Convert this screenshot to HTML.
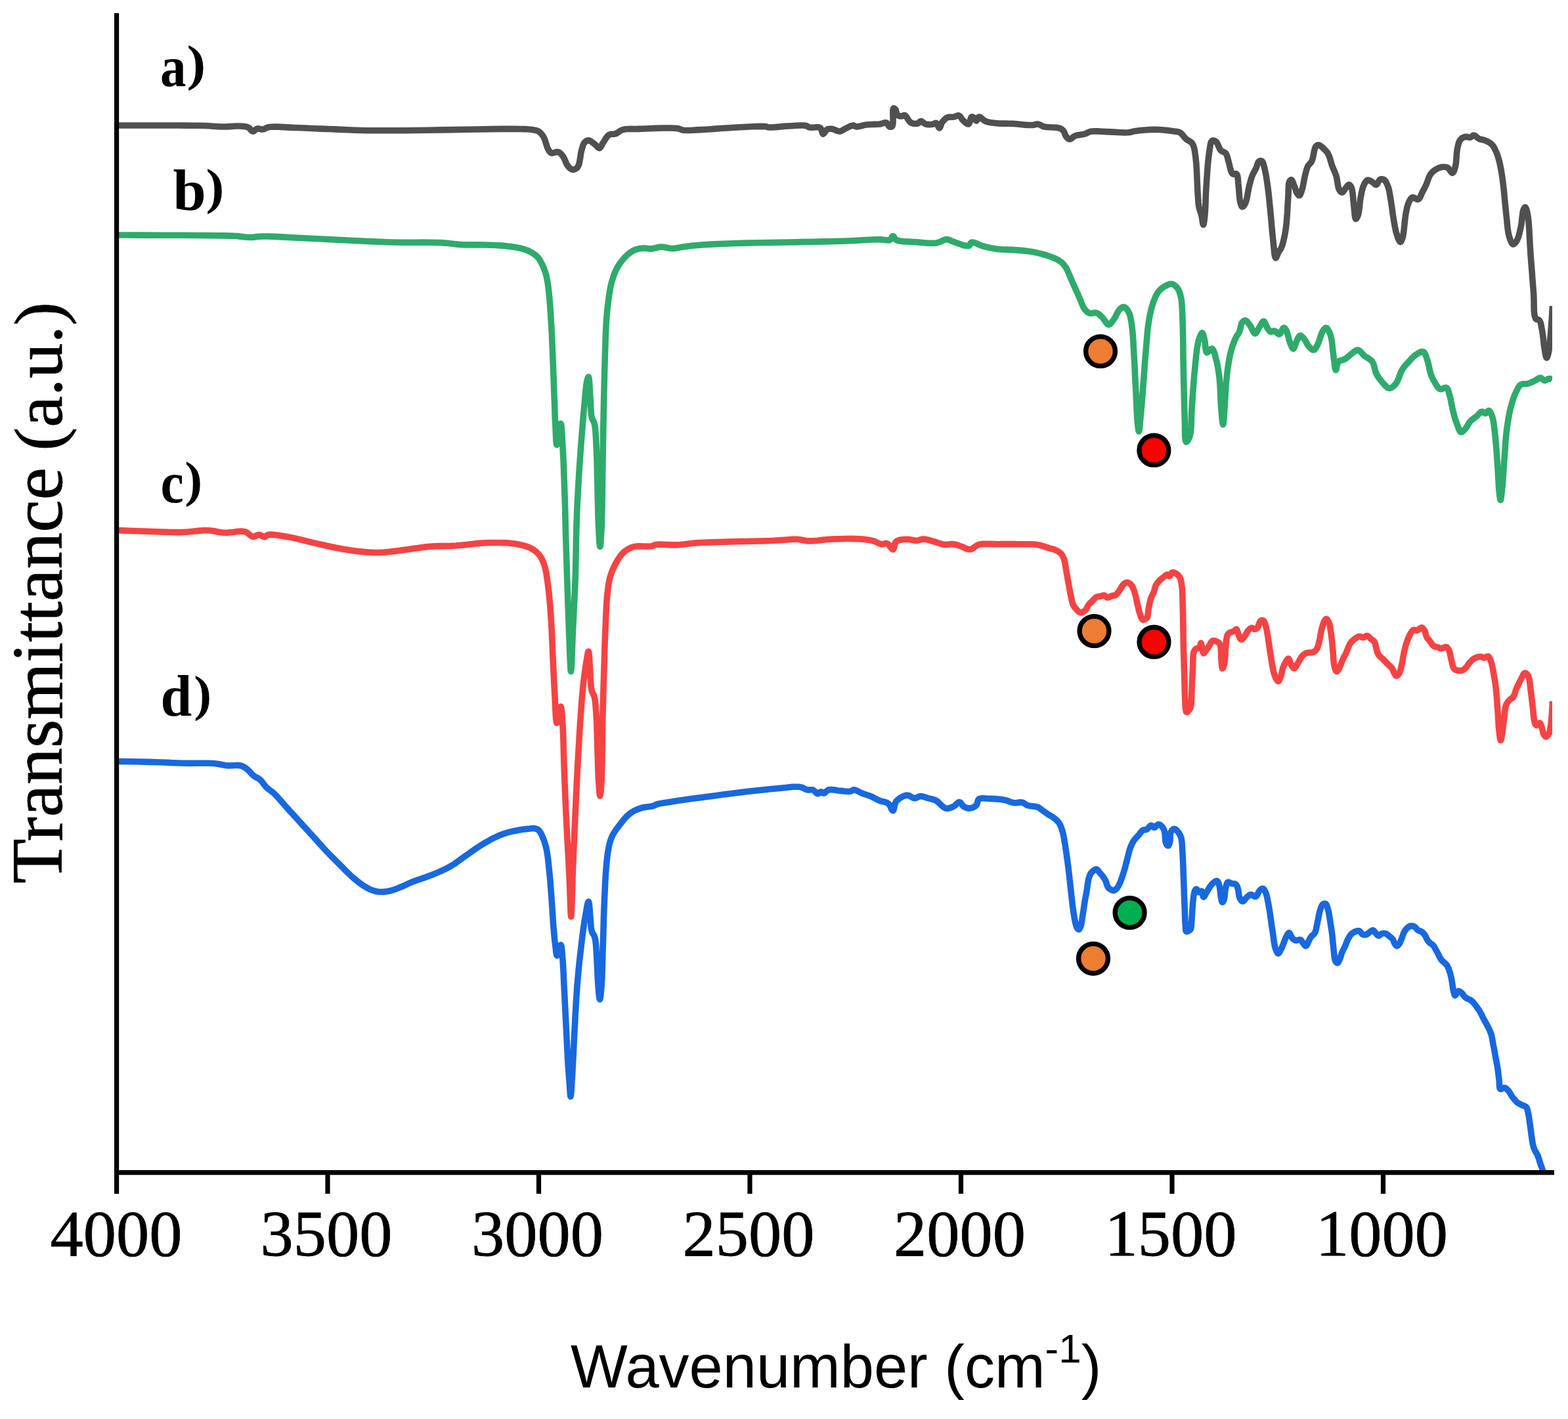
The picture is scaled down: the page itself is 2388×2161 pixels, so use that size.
<!DOCTYPE html>
<html lang="en"><head><meta charset="utf-8"><title>FTIR spectra</title>
<style>
html,body{margin:0;padding:0;background:#fff;}
body{width:2388px;height:2161px;overflow:hidden;}
svg{display:block;}
.tick{font-family:"Liberation Serif",serif;font-size:100.5px;fill:#000;stroke:#000;stroke-width:0.8;}
.ylab{font-family:"Liberation Serif",serif;font-size:110px;fill:#000;stroke:#000;stroke-width:0.8;}
.xlab{font-family:"Liberation Sans",sans-serif;font-size:92px;fill:#000;}
.lab{font-family:"Liberation Serif",serif;font-weight:bold;fill:#000;}
.c{fill:none;stroke-width:9.6;stroke-linejoin:round;stroke-linecap:butt;}
.dot{stroke:#000;stroke-width:7.4;}
</style></head><body>
<svg width="2388" height="2161" viewBox="0 0 2388 2161">
<rect width="2388" height="2161" fill="#fff"/>
<defs><clipPath id="plot"><rect x="181" y="20" width="2183" height="1762"/></clipPath></defs>
<g clip-path="url(#plot)">
<path class="c" stroke="#505050" d="M181.0,191.0 187.0,191.0 202.1,191.0 222.0,191.0 242.7,191.0 260.0,191.0 271.3,191.0 282.3,191.1 292.9,191.2 302.8,191.3 312.0,191.5 318.2,191.8 323.9,192.2 329.3,192.5 334.6,192.9 340.0,193.0 345.2,192.9 350.5,192.6 355.7,192.2 360.5,192.0 365.0,192.0 368.0,192.2 370.8,192.4 373.4,192.7 375.8,193.2 378.0,194.0 379.6,195.1 381.0,196.6 382.3,198.2 383.6,199.4 385.0,200.0 386.4,199.7 387.7,198.8 389.1,197.7 390.5,196.6 392.0,196.0 393.5,195.9 395.1,196.2 396.7,196.6 398.3,197.0 400.0,197.0 401.8,196.6 403.6,195.8 405.4,194.9 407.5,194.1 410.0,193.5 416.2,193.0 423.8,193.1 432.4,193.6 441.3,194.1 450.0,194.5 459.6,194.8 469.6,195.2 479.7,195.7 489.9,196.1 500.0,196.5 510.0,196.9 520.0,197.4 530.0,197.8 540.0,198.2 550.0,198.5 559.8,198.7 569.3,198.8 579.0,198.8 589.1,198.8 600.0,198.8 616.2,198.7 633.8,198.5 652.2,198.2 670.8,197.9 689.0,197.6 707.7,197.3 727.2,197.0 746.3,196.6 763.8,196.4 778.6,196.4 785.7,196.4 792.1,196.5 798.0,196.6 803.2,196.8 808.0,197.3 810.8,197.6 813.4,198.0 815.8,198.4 817.9,199.0 820.0,200.0 821.8,201.2 823.4,202.7 824.9,204.3 826.3,206.2 827.7,208.3 829.4,211.8 830.8,216.0 832.2,220.4 833.5,224.5 835.0,227.7 835.8,229.1 836.7,230.4 837.5,231.5 838.5,232.4 839.6,233.0 841.4,233.1 843.5,232.6 845.8,231.9 848.0,231.4 850.0,231.5 851.7,232.2 853.2,233.3 854.7,234.7 856.0,236.3 857.4,238.0 859.0,240.7 860.5,243.9 861.9,247.3 863.3,250.5 865.0,253.0 866.4,254.5 867.8,255.9 869.3,257.1 870.8,257.9 872.3,258.3 873.8,258.2 875.4,257.8 877.0,257.0 878.5,255.9 879.8,254.5 881.6,250.8 882.8,245.5 883.8,239.6 884.6,233.8 885.7,229.0 886.5,226.2 887.2,223.6 888.0,221.2 888.9,219.1 890.0,217.3 891.0,216.2 892.2,215.2 893.4,214.4 894.7,213.9 896.0,213.7 898.0,214.2 900.1,215.4 902.4,217.0 904.5,218.7 906.5,220.2 907.9,221.5 909.3,223.0 910.6,224.3 911.8,225.3 913.0,225.6 914.2,224.9 915.2,223.4 916.3,221.4 917.3,219.3 918.5,217.3 920.1,214.9 921.7,212.2 923.5,209.5 925.3,207.1 927.4,205.4 929.3,204.6 931.4,204.3 933.6,204.2 935.7,204.1 937.8,203.6 939.8,202.6 941.8,201.3 943.7,199.9 945.8,198.6 948.2,197.6 952.1,196.8 956.4,196.5 961.2,196.4 966.4,196.5 972.0,196.4 983.0,196.0 996.4,195.4 1010.2,195.0 1022.5,195.0 1031.5,195.5 1033.8,196.0 1035.5,196.6 1036.9,197.2 1038.5,197.8 1040.5,198.2 1044.8,198.5 1049.8,198.5 1055.3,198.2 1061.1,197.9 1067.0,197.6 1074.2,197.2 1081.7,196.7 1089.4,196.1 1097.6,195.5 1106.0,195.0 1118.1,194.3 1131.9,193.5 1145.6,192.8 1157.4,192.4 1165.5,192.6 1167.0,192.8 1168.1,193.2 1169.0,193.5 1170.0,193.8 1171.4,194.0 1175.7,194.0 1181.3,193.6 1187.6,193.0 1194.0,192.4 1200.0,192.0 1205.8,191.7 1211.8,191.3 1217.7,191.0 1222.9,191.0 1227.0,191.4 1228.5,191.8 1229.6,192.4 1230.6,193.0 1231.7,193.6 1233.0,194.0 1235.9,194.2 1239.4,194.0 1243.0,193.7 1246.4,193.8 1249.0,194.6 1250.4,196.2 1251.3,198.6 1252.0,201.1 1252.7,203.1 1253.6,204.0 1254.6,203.5 1255.7,202.1 1256.9,200.3 1258.1,198.5 1259.5,197.3 1260.8,196.7 1262.3,196.4 1263.8,196.3 1265.4,196.3 1267.0,196.4 1269.3,196.9 1271.7,197.9 1274.2,199.0 1276.7,199.8 1279.0,200.0 1281.1,199.5 1283.1,198.5 1285.0,197.3 1287.0,196.1 1289.0,195.0 1291.2,194.0 1293.5,192.9 1295.7,191.9 1297.9,191.2 1299.7,191.0 1300.6,191.2 1301.4,191.7 1302.2,192.2 1303.0,192.7 1304.0,193.0 1306.4,192.9 1309.2,192.3 1312.4,191.5 1315.7,190.6 1319.0,190.0 1323.1,189.7 1327.5,189.5 1332.0,189.4 1336.2,189.3 1340.0,189.0 1342.3,188.5 1344.5,187.8 1346.5,187.2 1348.4,186.8 1350.0,187.0 1351.2,187.9 1352.1,189.3 1353.0,190.9 1353.8,192.2 1354.8,193.0 1355.6,193.2 1356.5,193.2 1357.4,193.0 1358.3,192.6 1359.0,192.0 1360.0,188.1 1360.1,181.5 1359.9,174.1 1359.9,168.0 1360.7,165.0 1361.2,164.9 1361.9,165.1 1362.5,165.5 1363.1,166.1 1363.7,166.7 1364.4,168.0 1364.8,169.8 1365.3,171.8 1365.9,173.6 1366.7,175.0 1367.7,175.7 1368.8,176.3 1370.1,176.7 1371.4,176.9 1372.6,177.0 1373.7,176.8 1374.8,176.4 1375.9,175.8 1376.9,175.5 1378.0,175.6 1379.6,176.8 1381.3,179.1 1382.9,181.7 1384.5,184.2 1386.0,186.0 1386.9,186.6 1387.8,187.1 1388.6,187.5 1389.5,187.8 1390.5,188.0 1391.9,188.2 1393.5,188.4 1395.1,188.4 1396.6,188.3 1398.0,188.0 1399.0,187.4 1399.8,186.5 1400.6,185.6 1401.5,184.8 1402.4,184.5 1403.7,184.8 1405.1,185.8 1406.6,187.0 1408.2,188.2 1409.8,189.0 1411.7,189.4 1413.9,189.6 1416.0,189.6 1418.1,189.5 1420.0,189.3 1421.3,188.9 1422.6,188.4 1423.8,187.8 1425.0,187.4 1426.0,187.5 1427.1,188.6 1428.1,190.5 1428.9,192.6 1429.8,194.3 1430.6,195.0 1431.5,194.3 1432.3,192.6 1433.0,190.3 1433.9,187.9 1435.0,186.0 1436.3,184.4 1437.7,182.8 1439.2,181.3 1440.9,180.0 1442.6,179.0 1444.5,178.4 1446.7,178.2 1448.8,178.2 1451.0,178.2 1453.0,178.0 1454.6,177.5 1456.1,176.9 1457.6,176.3 1459.1,175.9 1460.4,176.0 1461.7,176.8 1462.9,178.2 1464.0,179.8 1465.1,181.5 1466.4,183.0 1468.0,184.5 1469.9,186.3 1471.7,187.8 1473.5,188.8 1475.0,189.0 1476.2,187.7 1477.1,185.1 1477.9,182.0 1478.8,179.4 1479.8,178.0 1480.6,177.9 1481.5,178.2 1482.4,178.7 1483.2,179.4 1484.0,180.0 1484.7,180.8 1485.3,181.9 1485.8,182.9 1486.4,183.7 1487.0,184.0 1487.7,183.4 1488.4,182.0 1489.2,180.3 1490.0,178.8 1491.0,178.0 1492.5,178.3 1494.3,179.6 1496.3,181.4 1498.4,183.2 1500.6,184.5 1503.2,185.4 1506.0,186.1 1509.0,186.7 1512.2,187.1 1515.5,187.5 1520.3,187.9 1525.5,188.1 1530.9,188.1 1536.5,188.2 1542.0,188.4 1548.2,188.8 1554.7,189.5 1561.2,190.1 1567.1,190.5 1572.0,190.5 1574.1,190.2 1576.0,189.8 1577.7,189.3 1579.3,189.0 1581.0,189.0 1582.7,189.5 1584.4,190.3 1586.1,191.2 1587.9,192.2 1590.0,192.9 1594.3,193.5 1599.4,193.8 1604.9,194.0 1609.8,194.4 1613.7,195.2 1615.2,195.9 1616.5,196.6 1617.6,197.4 1618.6,198.3 1619.6,199.4 1620.6,201.0 1621.5,202.9 1622.2,204.9 1623.0,206.8 1624.0,208.3 1624.9,209.3 1625.8,210.3 1626.8,211.2 1627.9,211.7 1629.0,212.0 1630.5,211.6 1632.1,210.6 1633.8,209.2 1635.6,207.9 1637.5,206.8 1640.2,206.0 1643.3,205.5 1646.5,205.0 1649.6,204.5 1652.4,203.9 1654.2,203.2 1655.8,202.4 1657.3,201.6 1659.0,200.9 1661.0,200.3 1665.8,199.8 1671.7,199.9 1678.2,200.2 1684.8,200.6 1691.0,200.9 1696.7,201.1 1702.4,201.5 1708.1,201.8 1713.3,202.0 1718.0,201.8 1720.6,201.5 1722.9,201.0 1725.0,200.4 1727.3,199.9 1730.0,199.4 1735.1,198.8 1740.9,198.2 1747.1,197.7 1753.4,197.4 1759.5,197.3 1765.5,197.5 1771.7,198.0 1777.8,198.6 1783.3,199.3 1788.0,200.0 1790.2,200.3 1792.0,200.4 1793.7,200.7 1795.4,201.1 1797.0,201.8 1798.9,203.2 1800.7,205.1 1802.4,207.2 1804.2,209.4 1806.0,211.3 1808.0,212.8 1810.2,214.1 1812.3,215.4 1814.3,216.9 1816.0,218.8 1817.5,221.8 1818.6,225.2 1819.4,229.0 1820.0,233.3 1820.7,238.0 1821.8,248.3 1822.6,261.1 1823.2,274.7 1823.7,287.4 1824.3,297.6 1824.6,301.9 1824.9,305.7 1825.1,309.1 1825.5,312.3 1826.0,315.5 1826.6,318.0 1827.4,320.4 1828.2,322.7 1829.0,325.0 1829.7,327.4 1830.4,330.7 1831.0,334.7 1831.5,338.4 1832.1,341.2 1832.6,342.3 1833.1,341.3 1833.6,338.8 1834.1,335.3 1834.6,331.3 1835.0,327.4 1835.5,320.5 1835.9,312.5 1836.2,303.8 1836.5,294.7 1837.0,285.7 1837.7,274.9 1838.5,263.3 1839.4,251.7 1840.4,241.0 1841.6,232.0 1842.3,227.4 1842.9,223.0 1843.6,219.1 1844.6,216.0 1846.0,214.3 1847.1,214.0 1848.3,214.0 1849.6,214.4 1850.8,215.0 1852.0,215.8 1853.6,217.8 1855.0,220.6 1856.4,223.8 1857.8,226.9 1859.4,229.2 1860.9,230.3 1862.5,231.1 1864.1,231.7 1865.6,232.5 1866.9,233.6 1868.1,235.7 1869.0,238.2 1869.8,241.1 1870.5,244.1 1871.3,247.0 1872.3,250.8 1873.3,255.1 1874.4,259.3 1875.7,262.7 1877.3,264.9 1878.4,265.2 1879.7,265.1 1881.0,264.7 1882.2,264.5 1883.2,264.9 1884.4,267.0 1885.1,270.3 1885.5,274.3 1885.8,278.6 1886.2,282.7 1886.7,287.4 1887.1,292.6 1887.4,297.7 1887.9,302.5 1888.6,306.5 1889.2,308.7 1889.8,310.9 1890.4,312.9 1891.2,314.3 1892.0,314.9 1892.8,314.7 1893.8,313.9 1894.8,312.6 1895.7,311.1 1896.6,309.5 1898.1,305.4 1899.3,299.9 1900.4,293.9 1901.5,287.9 1902.6,282.7 1903.5,279.4 1904.3,276.4 1905.1,273.5 1906.0,270.7 1907.0,267.9 1908.1,265.4 1909.3,263.0 1910.6,260.6 1911.8,258.3 1913.0,256.0 1913.9,253.7 1914.7,251.1 1915.5,248.7 1916.4,246.8 1917.5,245.5 1918.3,245.1 1919.3,244.9 1920.2,244.9 1921.2,245.1 1922.0,245.5 1923.2,247.0 1924.1,249.4 1924.9,252.4 1925.7,255.7 1926.4,259.0 1927.4,263.6 1928.4,268.7 1929.2,274.1 1930.1,279.8 1930.9,285.7 1931.9,293.4 1932.8,301.7 1933.6,310.3 1934.5,318.9 1935.3,327.4 1936.1,335.9 1936.8,344.6 1937.6,353.2 1938.4,361.4 1939.2,369.0 1939.8,374.9 1940.4,381.3 1941.0,387.0 1941.8,391.2 1942.8,392.9 1943.6,392.3 1944.4,390.7 1945.3,388.4 1946.3,386.0 1947.2,384.0 1948.1,382.5 1949.0,381.1 1950.0,379.7 1950.9,378.2 1951.7,376.5 1952.8,373.7 1953.7,370.4 1954.6,367.0 1955.4,363.5 1956.2,360.0 1956.9,356.6 1957.5,353.4 1958.0,350.0 1958.5,346.4 1959.0,342.3 1959.7,334.4 1960.4,325.1 1960.9,315.2 1961.5,305.8 1962.0,297.6 1962.2,292.6 1962.3,287.8 1962.5,283.3 1962.8,279.6 1963.6,276.8 1964.1,275.8 1964.7,275.0 1965.3,274.3 1966.0,273.9 1966.6,273.8 1967.5,274.5 1968.4,276.1 1969.3,278.2 1970.1,280.6 1971.0,282.7 1971.9,285.1 1972.8,287.7 1973.6,290.4 1974.5,292.7 1975.5,294.6 1976.2,295.5 1976.9,296.4 1977.6,297.1 1978.3,297.5 1979.0,297.6 1979.9,296.9 1980.7,295.4 1981.5,293.3 1982.3,291.0 1983.0,288.7 1984.0,285.1 1984.8,280.9 1985.7,276.4 1986.5,272.0 1987.4,267.9 1988.2,264.7 1989.0,261.5 1989.8,258.4 1990.8,255.6 1991.9,253.0 1993.0,251.4 1994.2,250.0 1995.5,248.7 1996.7,247.3 1997.8,245.5 1999.2,241.5 2000.3,236.4 2001.2,231.1 2002.4,226.4 2003.8,223.2 2004.6,222.3 2005.4,221.6 2006.3,221.1 2007.2,220.8 2008.2,220.8 2009.9,221.4 2011.7,222.6 2013.7,224.2 2015.5,226.0 2017.2,227.7 2018.5,229.0 2019.7,230.3 2020.9,231.7 2022.0,233.2 2023.0,235.0 2024.4,238.1 2025.6,241.6 2026.7,245.5 2027.8,249.4 2029.0,253.0 2030.2,256.0 2031.5,258.9 2032.7,261.8 2033.9,264.8 2035.0,267.9 2036.0,272.1 2036.7,276.7 2037.5,281.4 2038.3,285.5 2039.5,288.7 2040.3,290.0 2041.2,291.2 2042.1,292.2 2043.1,292.8 2044.0,293.0 2045.2,292.4 2046.4,291.0 2047.6,289.1 2048.8,287.2 2050.0,285.7 2050.9,284.6 2051.8,283.4 2052.7,282.3 2053.6,281.6 2054.4,281.3 2055.2,281.6 2056.0,282.2 2056.8,283.2 2057.5,284.4 2058.2,285.7 2059.3,289.6 2060.1,294.9 2060.7,300.9 2061.2,307.0 2061.8,312.5 2062.3,317.5 2062.8,322.9 2063.3,328.0 2063.9,331.7 2064.8,333.3 2065.5,333.0 2066.2,332.1 2067.0,330.8 2067.7,329.1 2068.4,327.4 2069.4,323.2 2070.2,317.9 2070.8,311.9 2071.4,305.9 2072.2,300.6 2073.0,296.7 2073.7,292.8 2074.6,289.1 2075.5,285.7 2076.7,282.7 2077.7,280.6 2078.8,278.5 2080.0,276.7 2081.3,275.2 2082.6,274.4 2083.7,274.3 2084.9,274.5 2086.1,275.0 2087.4,275.6 2088.6,276.2 2090.1,277.2 2091.6,278.6 2093.2,280.0 2094.6,281.0 2096.0,281.3 2097.3,280.4 2098.4,278.6 2099.5,276.4 2100.7,274.4 2102.0,273.2 2103.1,272.8 2104.4,272.7 2105.7,272.9 2106.9,273.2 2108.0,273.8 2109.4,275.1 2110.7,276.9 2111.8,279.2 2112.9,281.6 2113.9,284.2 2115.1,288.0 2116.0,292.3 2116.8,296.9 2117.6,301.7 2118.4,306.5 2119.3,312.3 2120.2,318.4 2121.0,324.6 2121.9,330.6 2122.8,336.3 2123.6,340.8 2124.4,345.2 2125.3,349.4 2126.2,353.3 2127.3,357.0 2128.3,359.9 2129.3,363.0 2130.5,365.7 2131.6,367.7 2132.6,368.5 2133.4,368.1 2134.1,367.0 2134.9,365.5 2135.5,363.6 2136.2,361.6 2137.3,356.3 2138.2,349.3 2139.0,341.6 2139.8,333.9 2140.7,327.4 2141.4,323.3 2142.2,319.5 2142.9,315.9 2143.9,312.5 2145.0,309.5 2146.0,307.3 2147.1,305.0 2148.2,303.1 2149.5,301.5 2151.0,300.6 2152.6,300.7 2154.5,301.6 2156.5,302.7 2158.4,303.6 2160.0,303.6 2161.5,302.4 2162.7,300.5 2163.8,298.0 2164.9,295.4 2166.0,293.0 2167.2,290.7 2168.4,288.5 2169.7,286.1 2170.8,283.8 2172.0,281.3 2173.2,278.4 2174.3,275.2 2175.4,272.0 2176.6,269.0 2178.0,266.4 2179.3,264.6 2180.6,263.0 2182.1,261.5 2183.6,260.2 2185.3,259.0 2187.2,257.8 2189.3,256.7 2191.4,255.7 2193.6,255.0 2195.7,254.5 2197.6,254.3 2199.4,254.2 2201.3,254.4 2203.0,254.8 2204.7,255.4 2206.4,256.8 2207.9,258.9 2209.4,261.1 2210.8,262.8 2212.0,263.4 2213.1,262.6 2214.2,260.9 2215.1,258.5 2215.9,255.7 2216.6,253.0 2217.4,248.3 2217.9,242.8 2218.3,236.9 2218.8,231.2 2219.5,226.2 2220.2,223.1 2220.9,220.1 2221.7,217.3 2222.7,214.8 2224.0,212.8 2225.3,211.5 2226.7,210.3 2228.3,209.4 2229.9,208.8 2231.5,208.3 2233.0,208.2 2234.5,208.5 2236.0,208.9 2237.5,209.2 2238.9,209.2 2240.1,208.7 2241.3,207.9 2242.5,207.0 2243.6,206.2 2244.8,206.0 2246.2,206.5 2247.7,207.6 2249.2,208.9 2250.7,210.3 2252.3,211.3 2254.0,211.9 2255.7,212.3 2257.6,212.7 2259.4,213.1 2261.2,213.7 2263.3,214.6 2265.5,215.6 2267.7,216.7 2269.7,218.0 2271.6,219.6 2273.4,221.6 2275.0,223.9 2276.4,226.4 2277.7,229.2 2279.0,232.0 2280.5,235.7 2281.7,239.8 2282.9,244.0 2284.0,248.4 2285.0,253.0 2286.1,258.5 2287.0,264.2 2287.9,270.1 2288.7,276.3 2289.5,282.7 2290.5,291.2 2291.3,300.3 2292.2,309.6 2293.1,318.8 2294.0,327.4 2294.8,334.5 2295.4,341.6 2296.2,348.4 2297.1,354.6 2298.4,360.0 2299.4,363.2 2300.5,366.3 2301.8,369.1 2303.1,371.1 2304.4,372.0 2305.5,371.8 2306.8,370.8 2308.0,369.4 2309.2,367.8 2310.3,366.0 2311.8,362.8 2313.1,358.8 2314.3,354.3 2315.3,349.7 2316.3,345.2 2317.2,340.0 2317.8,334.3 2318.4,328.7 2319.1,323.7 2320.0,320.0 2320.5,318.7 2321.1,317.4 2321.7,316.4 2322.2,315.7 2322.8,315.5 2323.6,316.3 2324.5,318.2 2325.3,320.8 2326.0,324.0 2326.7,327.4 2327.9,336.4 2328.8,347.9 2329.5,361.0 2330.2,374.3 2331.0,387.0 2331.9,399.1 2332.9,411.4 2333.8,423.6 2334.7,435.3 2335.6,446.4 2336.0,455.4 2336.1,464.6 2336.3,473.2 2337.0,480.3 2338.6,485.0 2339.6,486.0 2340.9,486.5 2342.2,486.7 2343.4,487.2 2344.5,488.0 2345.9,490.5 2346.9,493.9 2347.6,497.8 2348.3,502.0 2349.0,506.0 2349.7,510.6 2350.3,515.5 2350.8,520.5 2351.3,525.3 2352.0,529.8 2352.6,533.5 2353.3,537.6 2354.0,541.3 2354.8,543.9 2355.5,545.0 2356.1,544.4 2356.7,542.9 2357.4,540.8 2358.0,538.4 2358.5,536.0 2359.2,532.4 2359.7,528.3 2360.2,524.0 2360.6,519.5 2361.0,515.0 2361.5,510.1 2361.9,505.1 2362.3,500.1 2362.6,495.0 2363.0,490.0 2363.4,484.4 2363.8,478.1 2364.1,472.1 2364.4,467.7 2364.5,466.0"/>
<path class="c" stroke="#2eab6b" d="M181.0,358.0 190.3,358.0 213.5,358.1 243.9,358.2 275.0,358.3 300.0,358.5 313.8,358.6 327.0,358.7 339.3,358.9 350.4,359.1 360.0,359.5 364.7,359.9 368.8,360.4 372.5,360.9 376.2,361.3 380.0,361.5 383.9,361.4 387.6,361.0 391.3,360.6 395.4,360.2 400.0,360.0 408.6,360.0 418.4,360.4 428.9,360.9 439.6,361.5 450.0,362.0 460.0,362.5 470.0,363.0 480.0,363.5 490.0,364.0 500.0,364.5 510.0,365.0 520.0,365.5 530.0,366.0 540.0,366.5 550.0,367.0 559.9,367.5 569.6,367.9 579.4,368.3 589.4,368.7 600.0,369.0 613.9,369.2 629.0,369.2 644.2,369.1 658.7,369.2 671.4,369.6 678.6,370.1 685.1,370.8 691.2,371.5 697.3,372.1 704.0,372.6 712.7,372.9 721.9,372.9 731.3,372.9 740.5,373.0 749.0,373.2 755.4,373.5 761.5,373.9 767.3,374.3 773.0,374.9 778.6,375.6 783.7,376.4 788.6,377.3 793.5,378.3 798.1,379.5 802.4,381.0 805.8,382.5 809.1,384.2 812.2,386.1 814.9,388.0 817.3,390.0 818.7,391.4 819.9,392.8 821.0,394.3 822.0,395.9 823.0,397.7 824.5,400.5 826.1,403.6 827.6,407.0 829.0,410.5 830.3,414.0 831.4,417.8 832.4,421.6 833.2,425.6 834.0,429.9 834.7,434.7 835.8,443.7 836.8,454.1 837.7,465.3 838.5,476.8 839.2,488.0 839.9,499.6 840.5,511.5 841.0,523.4 841.5,535.3 842.0,547.2 842.5,559.2 842.9,571.3 843.4,583.3 843.8,595.1 844.2,606.4 844.6,615.9 844.9,625.2 845.2,634.2 845.6,642.7 846.0,650.8 846.3,657.4 846.6,664.5 846.9,671.0 847.4,675.7 848.0,677.5 849.0,674.1 850.3,666.1 851.6,656.4 852.9,648.4 854.0,645.0 854.8,647.4 855.5,653.5 856.0,661.9 856.5,671.4 857.0,680.4 857.7,693.5 858.4,708.0 858.9,723.5 859.5,739.2 860.0,754.4 860.5,769.4 860.9,784.7 861.2,799.8 861.6,814.5 862.0,828.5 862.3,839.2 862.7,849.2 863.0,859.0 863.3,869.1 863.7,880.0 864.2,895.0 864.7,911.2 865.3,927.9 865.9,944.4 866.5,960.0 867.1,975.0 867.7,991.6 868.3,1006.9 868.9,1018.1 869.5,1022.5 870.1,1018.1 870.7,1006.9 871.3,991.6 871.9,975.0 872.5,960.0 873.2,944.7 874.0,929.1 874.8,913.0 875.6,896.6 876.2,880.0 876.7,861.3 877.1,842.0 877.4,822.5 877.9,803.1 878.5,784.0 879.3,765.9 880.3,747.8 881.3,730.0 882.4,712.4 883.6,695.2 884.7,679.6 885.9,664.1 887.1,648.9 888.3,634.5 889.5,621.2 890.4,611.6 891.2,602.1 892.1,593.2 893.0,585.7 894.0,580.0 894.5,578.2 894.9,576.6 895.4,575.2 895.9,574.3 896.3,574.0 897.1,576.4 897.6,582.5 898.1,590.5 898.5,599.0 899.0,606.4 899.4,612.7 899.7,619.2 900.0,625.5 900.5,631.2 901.3,636.0 902.0,638.1 902.8,639.7 903.7,641.2 904.5,642.9 905.2,645.0 906.2,650.3 906.9,656.8 907.4,664.2 907.8,672.1 908.2,680.4 908.8,693.7 909.2,708.7 909.5,724.5 909.9,740.1 910.2,754.4 910.5,765.4 910.7,776.1 911.0,786.3 911.3,796.0 911.7,805.0 912.1,811.9 912.5,819.2 912.9,825.9 913.4,830.7 913.8,832.5 914.3,830.8 914.8,826.2 915.2,819.7 915.7,812.3 916.1,805.0 916.6,791.7 916.9,776.1 917.2,759.2 917.4,741.8 917.6,724.8 917.9,707.3 918.2,689.6 918.5,671.7 918.8,653.8 919.1,636.0 919.5,618.0 919.9,599.6 920.3,581.4 920.7,563.8 921.2,547.2 921.6,534.3 922.0,521.7 922.4,509.6 922.9,498.3 923.5,488.0 924.0,481.4 924.5,475.3 925.1,469.6 925.8,464.0 926.5,458.4 927.2,452.9 928.0,447.5 928.9,442.1 929.8,436.9 931.0,431.8 932.2,427.4 933.5,423.1 934.9,419.0 936.5,414.9 938.3,411.0 940.3,407.2 942.5,403.5 944.9,399.9 947.5,396.5 950.2,393.3 952.9,390.5 955.8,387.8 958.8,385.3 961.9,383.2 965.0,381.4 967.9,380.2 970.9,379.3 973.9,378.6 976.9,378.2 979.8,377.9 982.2,377.9 984.5,378.2 986.8,378.6 989.2,378.9 991.6,379.0 994.4,378.6 997.3,377.9 1000.3,377.1 1003.3,376.3 1006.4,376.0 1009.9,376.2 1013.4,376.8 1017.1,377.6 1020.7,378.2 1024.2,378.5 1027.4,378.3 1030.5,377.8 1033.6,377.2 1036.7,376.6 1040.0,376.0 1043.9,375.5 1047.8,374.9 1051.8,374.4 1056.3,374.0 1061.3,373.5 1071.1,372.8 1082.5,372.1 1094.9,371.5 1107.9,371.0 1120.8,370.5 1135.8,370.1 1151.4,369.8 1167.4,369.5 1183.7,369.3 1200.0,369.0 1217.9,368.6 1236.4,368.3 1254.9,367.9 1272.7,367.5 1289.0,367.0 1300.6,366.5 1311.9,365.8 1322.5,365.2 1332.0,364.8 1340.0,364.6 1343.7,364.9 1347.1,365.4 1350.1,365.8 1352.7,366.0 1355.0,365.5 1356.3,364.5 1357.4,362.9 1358.2,361.3 1359.1,360.0 1360.0,359.5 1360.9,360.0 1361.7,361.2 1362.5,362.7 1363.6,364.3 1365.0,365.5 1369.1,366.8 1374.5,367.6 1380.8,367.9 1387.3,368.2 1393.5,368.5 1400.1,369.1 1406.9,369.7 1413.8,370.2 1420.3,370.4 1426.0,370.0 1429.6,369.1 1432.9,367.7 1435.9,366.2 1438.8,365.1 1441.7,364.6 1444.0,364.9 1446.2,365.6 1448.3,366.5 1450.5,367.6 1453.0,368.5 1457.3,370.0 1462.2,371.8 1467.3,373.5 1471.9,374.5 1475.3,374.4 1476.5,373.6 1477.3,372.4 1477.9,371.0 1478.7,369.7 1479.8,369.0 1482.5,369.1 1485.8,370.2 1489.6,371.9 1493.6,373.6 1497.6,375.0 1502.1,376.1 1506.9,377.2 1511.8,378.1 1516.7,378.9 1521.4,379.5 1525.5,379.9 1529.5,380.0 1533.5,380.1 1537.6,380.2 1542.0,380.4 1548.2,380.9 1554.9,381.4 1561.8,382.1 1568.6,383.0 1575.0,384.0 1580.1,385.1 1585.1,386.3 1589.9,387.6 1594.5,389.0 1598.8,390.5 1602.1,391.7 1605.3,392.9 1608.3,394.3 1611.1,395.7 1613.7,397.3 1615.8,398.8 1617.6,400.4 1619.4,402.2 1621.0,404.1 1622.6,406.3 1624.6,409.6 1626.3,413.2 1628.0,417.2 1629.7,421.4 1631.5,425.6 1633.8,430.7 1636.3,436.2 1638.7,441.8 1641.2,447.3 1643.5,452.4 1645.3,456.7 1647.0,461.0 1648.7,465.1 1650.5,468.8 1652.4,471.7 1653.8,473.2 1655.2,474.5 1656.6,475.6 1658.2,476.4 1659.8,477.0 1661.7,477.2 1663.8,476.9 1665.9,476.5 1668.0,476.3 1670.0,476.5 1671.9,477.4 1673.8,478.7 1675.5,480.2 1677.3,481.9 1679.0,483.6 1680.9,485.9 1682.8,488.7 1684.7,491.5 1686.5,493.5 1688.4,494.4 1690.2,493.8 1691.9,492.2 1693.7,490.0 1695.4,487.6 1697.0,485.3 1698.7,482.6 1700.2,479.5 1701.7,476.4 1703.3,473.6 1705.0,471.4 1706.3,470.2 1707.7,469.0 1709.1,468.1 1710.5,467.6 1711.8,467.5 1713.3,468.1 1714.9,469.4 1716.4,471.2 1717.8,473.3 1719.0,475.4 1720.4,478.6 1721.4,482.2 1722.3,486.2 1723.0,490.6 1723.7,495.2 1724.6,502.7 1725.3,511.1 1725.9,520.1 1726.4,529.4 1726.9,538.9 1727.6,550.4 1728.2,562.6 1728.8,575.0 1729.4,587.1 1730.0,598.4 1730.4,607.1 1730.8,615.5 1731.1,623.6 1731.5,631.1 1732.0,638.0 1732.4,642.9 1732.9,647.9 1733.4,652.5 1733.9,655.7 1734.4,657.0 1734.9,655.8 1735.4,652.5 1735.8,648.0 1736.3,643.0 1736.8,638.0 1737.6,629.9 1738.4,620.6 1739.2,610.7 1740.0,600.5 1740.8,590.5 1741.6,580.3 1742.3,570.0 1743.1,559.6 1743.8,549.3 1744.7,538.9 1745.6,528.3 1746.5,517.5 1747.4,506.8 1748.5,496.6 1749.9,487.3 1751.0,481.0 1752.3,475.1 1753.6,469.6 1755.1,464.4 1756.7,459.5 1758.1,455.9 1759.5,452.5 1761.0,449.3 1762.7,446.3 1764.6,443.7 1766.4,441.7 1768.3,439.9 1770.3,438.3 1772.4,436.9 1774.5,435.7 1776.4,434.7 1778.5,433.7 1780.5,433.0 1782.5,432.5 1784.4,432.5 1786.1,432.9 1787.8,433.7 1789.5,434.9 1791.0,436.2 1792.4,437.7 1793.9,439.8 1795.3,442.3 1796.4,445.1 1797.4,448.2 1798.3,451.6 1799.4,457.4 1800.0,464.0 1800.4,471.3 1800.7,479.1 1801.0,487.3 1801.4,499.9 1801.7,513.9 1801.9,528.7 1802.0,543.8 1802.3,558.7 1802.6,574.8 1803.0,591.7 1803.4,608.4 1803.8,624.1 1804.3,638.0 1804.5,647.0 1804.5,656.2 1804.7,664.4 1805.2,670.4 1806.3,673.0 1807.3,672.6 1808.6,671.3 1809.9,669.2 1811.2,666.6 1812.2,664.0 1813.5,657.8 1814.1,650.0 1814.4,641.1 1814.6,631.6 1815.0,622.2 1815.9,610.1 1816.8,597.0 1817.8,583.7 1818.9,570.7 1820.0,558.7 1820.9,549.8 1821.8,541.0 1822.7,532.7 1823.9,525.3 1825.3,519.0 1826.3,515.7 1827.5,512.5 1828.7,509.7 1829.9,507.7 1830.9,507.0 1831.8,507.9 1832.6,510.0 1833.4,512.9 1834.1,516.1 1834.8,519.0 1835.4,522.8 1835.8,527.3 1836.2,531.7 1836.8,535.2 1838.0,536.9 1839.3,536.5 1841.0,535.0 1842.7,533.0 1844.4,531.4 1845.9,531.0 1847.4,532.4 1848.7,535.2 1849.9,538.8 1850.9,542.9 1851.9,546.8 1853.2,551.7 1854.3,557.0 1855.3,562.5 1856.2,568.4 1857.0,574.6 1857.8,583.5 1858.4,593.5 1858.8,603.7 1859.2,613.5 1859.8,622.2 1860.3,628.4 1860.9,634.8 1861.5,640.7 1862.1,644.9 1862.6,646.5 1863.1,644.9 1863.6,640.6 1864.1,634.8 1864.5,628.3 1865.0,622.2 1865.5,614.3 1866.0,605.6 1866.5,596.5 1867.0,587.4 1867.8,578.6 1868.7,570.4 1869.7,562.1 1870.9,553.9 1872.2,546.1 1873.7,538.9 1875.1,533.5 1876.6,528.3 1878.3,523.4 1880.0,519.0 1881.7,515.0 1882.9,512.8 1884.1,510.8 1885.4,509.1 1886.6,507.2 1887.6,505.2 1888.5,502.4 1889.2,499.3 1889.8,496.2 1890.5,493.4 1891.6,491.3 1892.5,490.2 1893.5,489.3 1894.6,488.5 1895.6,488.1 1896.7,488.0 1898.0,488.6 1899.4,489.8 1900.8,491.5 1902.2,493.4 1903.5,495.2 1905.1,497.9 1906.7,501.2 1908.3,504.5 1909.9,507.0 1911.4,508.0 1912.6,507.4 1913.8,505.8 1915.0,503.6 1916.2,501.3 1917.4,499.2 1918.8,496.9 1920.3,494.3 1921.7,491.8 1923.2,490.0 1924.5,489.3 1925.7,490.1 1926.8,492.0 1927.8,494.5 1928.9,497.1 1930.0,499.2 1931.0,500.7 1932.0,502.1 1933.0,503.5 1934.0,504.5 1935.2,505.2 1936.3,505.3 1937.5,504.9 1938.7,504.4 1940.0,504.0 1941.2,504.0 1942.6,504.7 1944.1,506.1 1945.6,507.6 1947.0,508.7 1948.3,509.0 1949.8,507.8 1951.2,505.4 1952.5,502.6 1953.8,500.2 1955.0,499.2 1955.8,499.4 1956.7,500.0 1957.5,500.9 1958.2,502.0 1959.0,503.2 1960.3,506.3 1961.5,510.4 1962.6,515.0 1963.8,519.4 1965.0,523.0 1965.9,525.1 1966.9,527.3 1967.8,529.2 1968.8,530.5 1969.7,531.0 1970.8,530.1 1971.8,527.7 1972.8,524.7 1973.9,521.6 1975.0,519.0 1975.9,517.0 1976.9,515.0 1977.8,513.1 1978.9,511.7 1980.0,511.0 1981.3,511.3 1982.7,512.3 1984.1,513.8 1985.5,515.4 1986.8,517.0 1988.1,518.8 1989.2,520.9 1990.3,523.1 1991.5,525.2 1992.8,527.0 1994.3,528.6 1995.9,530.3 1997.6,531.8 1999.2,532.7 2000.7,533.0 2002.0,532.4 2003.2,531.0 2004.4,529.2 2005.5,527.1 2006.6,525.0 2008.2,521.2 2009.8,516.6 2011.3,511.8 2012.9,507.4 2014.6,504.0 2015.6,502.5 2016.6,501.2 2017.7,500.1 2018.7,499.4 2019.7,499.2 2021.1,500.1 2022.6,502.1 2024.0,504.8 2025.4,507.9 2026.5,511.0 2027.7,515.8 2028.6,521.3 2029.2,527.2 2029.8,533.2 2030.5,538.9 2031.2,544.7 2032.0,551.2 2032.7,557.2 2033.5,561.7 2034.4,563.5 2035.0,562.5 2035.6,559.9 2036.2,556.5 2037.1,553.2 2038.4,550.8 2040.0,549.6 2042.0,548.8 2044.1,548.3 2046.3,547.7 2048.3,546.8 2050.3,545.4 2052.3,543.8 2054.3,542.1 2056.2,540.4 2058.2,538.9 2060.1,537.4 2062.1,535.8 2064.1,534.3 2066.1,533.3 2068.0,533.0 2070.0,533.8 2072.0,535.5 2073.9,537.7 2075.9,540.0 2078.0,542.0 2080.4,543.7 2083.0,545.2 2085.6,546.8 2088.0,548.6 2090.0,550.8 2091.6,553.9 2092.8,557.6 2093.7,561.5 2094.6,565.3 2095.9,568.7 2097.3,571.3 2098.8,573.8 2100.3,576.1 2102.1,578.4 2103.9,580.6 2106.1,583.2 2108.4,586.0 2110.9,588.5 2113.4,590.5 2115.8,591.3 2117.8,591.0 2119.9,590.0 2121.9,588.5 2123.9,586.6 2125.7,584.5 2127.9,580.9 2129.9,576.4 2131.7,571.5 2133.5,566.8 2135.6,562.7 2137.5,560.0 2139.4,557.5 2141.4,555.2 2143.5,553.0 2145.5,550.8 2147.4,548.7 2149.3,546.5 2151.3,544.5 2153.3,542.6 2155.5,540.9 2157.8,539.3 2160.4,537.7 2163.0,536.4 2165.4,535.6 2167.4,535.7 2169.0,536.8 2170.2,538.7 2171.3,541.2 2172.3,544.0 2173.3,546.8 2174.6,551.1 2175.8,556.0 2176.9,561.2 2178.0,566.2 2179.3,570.6 2180.4,573.3 2181.5,575.8 2182.6,578.1 2183.9,580.3 2185.2,582.5 2186.6,584.8 2188.0,587.2 2189.5,589.5 2191.2,591.4 2193.0,592.5 2194.9,592.6 2197.1,591.9 2199.3,590.9 2201.3,590.3 2203.0,590.5 2204.4,591.9 2205.4,594.0 2206.3,596.6 2207.0,599.5 2207.8,602.4 2208.9,606.6 2209.9,611.4 2210.9,616.4 2211.9,621.5 2213.0,626.2 2214.1,630.4 2215.2,634.5 2216.4,638.6 2217.7,642.4 2219.0,646.0 2220.1,648.9 2221.2,652.0 2222.4,654.8 2223.6,657.0 2225.0,658.0 2226.1,657.9 2227.3,657.4 2228.5,656.4 2229.7,655.2 2230.9,654.0 2232.5,652.0 2234.0,649.6 2235.5,646.9 2237.1,644.3 2238.8,642.0 2240.6,640.2 2242.6,638.6 2244.7,637.0 2246.8,635.5 2248.7,634.0 2250.4,632.4 2252.0,630.6 2253.6,629.0 2255.1,627.7 2256.7,627.0 2257.9,627.1 2259.1,627.8 2260.3,628.6 2261.5,629.2 2262.6,629.4 2263.6,628.9 2264.6,627.8 2265.6,626.6 2266.5,625.7 2267.4,625.4 2268.5,626.1 2269.6,627.5 2270.7,629.4 2271.6,631.7 2272.5,634.0 2273.6,637.8 2274.5,642.3 2275.2,647.2 2275.8,652.5 2276.5,658.0 2277.4,666.5 2278.3,676.0 2279.1,685.9 2279.8,696.0 2280.5,705.6 2281.1,714.8 2281.6,724.4 2282.1,733.6 2282.6,742.0 2283.2,749.0 2283.6,752.4 2284.0,755.8 2284.4,758.7 2284.8,760.7 2285.2,761.5 2285.7,760.5 2286.2,757.7 2286.6,753.9 2287.1,749.5 2287.6,745.2 2288.4,737.2 2289.1,727.8 2289.8,717.5 2290.5,707.2 2291.2,697.6 2291.8,689.4 2292.3,681.4 2292.8,673.5 2293.5,665.7 2294.3,658.0 2295.2,650.6 2296.3,643.2 2297.5,635.9 2298.8,628.8 2300.3,622.2 2301.7,617.0 2303.1,611.9 2304.7,607.1 2306.4,602.5 2308.2,598.4 2309.6,595.3 2311.1,592.4 2312.6,589.6 2314.3,587.4 2316.2,585.7 2318.0,585.0 2319.9,584.8 2322.0,584.8 2324.0,584.8 2326.0,584.5 2328.0,583.9 2330.0,583.2 2332.0,582.4 2334.0,581.5 2336.0,580.6 2338.1,579.5 2340.2,578.1 2342.2,576.7 2344.2,575.7 2346.0,575.4 2347.3,575.8 2348.4,576.8 2349.5,577.9 2350.7,578.9 2351.9,579.4 2353.4,579.2 2355.1,578.5 2356.8,577.6 2358.4,576.9 2359.8,576.6 2360.9,576.8 2362.0,577.3 2363.0,577.9 2363.7,578.4 2364.0,578.6"/>
<path class="c" stroke="#f54343" d="M181.0,807.7 185.3,807.9 196.1,808.3 210.5,808.8 225.4,809.3 238.0,809.7 246.4,810.0 254.4,810.2 262.2,810.5 270.0,810.6 277.8,810.5 285.9,810.0 294.2,809.2 302.4,808.4 310.2,807.8 317.5,807.7 322.6,808.2 327.3,809.0 331.8,810.0 336.4,810.8 341.3,811.3 347.6,811.1 354.4,810.4 361.3,809.5 367.6,809.1 373.0,809.7 375.9,810.9 378.4,812.8 380.6,814.7 382.7,816.3 385.0,817.2 387.0,817.1 389.0,816.4 391.0,815.5 392.9,814.7 394.8,814.4 396.5,814.8 398.1,815.6 399.7,816.6 401.3,817.3 402.8,817.6 404.0,817.3 405.0,816.6 406.0,815.7 407.2,814.9 408.7,814.4 412.8,814.1 418.1,814.4 424.0,815.2 430.3,816.2 436.5,817.2 444.0,818.6 451.9,820.4 460.0,822.4 468.1,824.4 476.2,826.3 484.1,828.1 492.1,830.0 500.0,831.8 507.9,833.5 515.9,835.0 524.0,836.4 532.2,837.7 540.4,838.9 548.3,839.9 555.6,840.6 560.7,841.0 565.3,841.3 569.8,841.5 574.4,841.5 579.4,841.4 586.0,841.0 593.0,840.3 600.3,839.4 607.6,838.4 615.0,837.5 622.8,836.5 630.8,835.3 638.8,834.2 646.8,833.1 654.8,832.3 662.7,831.8 670.6,831.6 678.6,831.5 686.5,831.4 694.4,831.0 702.5,830.3 710.6,829.4 718.8,828.5 726.6,827.6 734.0,827.0 739.6,826.7 745.0,826.5 750.2,826.5 755.2,826.5 760.0,826.5 763.9,826.5 767.5,826.6 771.0,826.7 774.7,827.0 778.5,827.4 783.7,828.1 789.2,829.0 794.8,830.2 800.2,831.6 805.0,833.3 808.5,835.0 811.7,836.8 814.7,838.8 817.5,841.1 820.0,843.6 822.2,846.4 824.2,849.4 825.9,852.7 827.4,856.2 828.8,860.0 830.4,865.6 831.7,871.8 832.8,878.4 833.8,885.3 834.7,892.5 835.8,901.8 836.8,911.6 837.7,921.8 838.5,932.3 839.2,942.8 839.9,954.3 840.5,966.1 841.0,978.1 841.5,990.1 842.0,1002.0 842.6,1014.0 843.2,1026.2 843.7,1038.2 844.4,1049.9 845.0,1061.0 845.5,1070.8 845.9,1081.4 846.4,1091.1 847.1,1098.2 848.0,1101.0 849.0,1098.4 850.3,1092.2 851.7,1084.8 852.9,1078.6 854.0,1076.0 854.9,1078.0 855.5,1083.1 856.1,1090.2 856.5,1098.1 857.0,1105.6 857.6,1116.0 858.0,1127.5 858.3,1139.7 858.6,1152.2 859.0,1164.8 859.5,1179.4 860.1,1194.7 860.8,1210.2 861.4,1225.1 862.0,1238.8 862.5,1248.3 862.9,1257.1 863.4,1265.6 863.8,1274.2 864.3,1283.2 864.9,1294.1 865.5,1305.4 866.1,1317.0 866.7,1328.6 867.3,1340.0 867.8,1353.0 868.3,1367.8 868.8,1381.7 869.2,1392.0 869.7,1396.0 870.3,1390.6 870.8,1376.7 871.4,1357.9 872.0,1337.8 872.6,1320.0 873.3,1304.0 874.0,1287.9 874.7,1271.7 875.4,1255.3 876.2,1238.8 877.0,1221.3 877.8,1203.6 878.7,1185.7 879.6,1167.8 880.6,1150.0 881.7,1131.7 882.8,1112.9 884.0,1094.4 885.2,1076.8 886.5,1061.0 887.4,1051.0 888.4,1041.6 889.4,1032.8 890.5,1024.6 891.6,1016.8 892.5,1010.6 893.6,1004.0 894.6,998.0 895.5,993.6 896.3,992.0 896.9,993.7 897.3,998.2 897.7,1004.2 898.0,1010.8 898.4,1016.8 898.9,1023.9 899.2,1031.8 899.7,1039.6 900.3,1046.8 901.3,1052.4 902.0,1054.4 902.8,1056.0 903.7,1057.5 904.5,1059.0 905.2,1061.0 906.1,1065.6 906.8,1071.1 907.3,1077.3 907.8,1083.9 908.2,1090.8 908.8,1101.5 909.2,1113.6 909.5,1126.2 909.9,1138.6 910.2,1150.0 910.5,1158.7 910.7,1167.1 911.0,1175.2 911.3,1182.9 911.7,1190.0 912.1,1195.5 912.5,1201.4 912.9,1206.7 913.4,1210.5 913.8,1212.0 914.3,1210.6 914.8,1207.1 915.2,1201.9 915.7,1196.0 916.1,1190.0 916.6,1176.7 916.9,1160.3 917.1,1142.1 917.3,1123.5 917.6,1105.6 918.0,1087.7 918.5,1069.4 919.0,1051.1 919.5,1033.4 920.0,1016.8 920.4,1004.1 920.7,992.1 921.1,980.5 921.5,969.0 922.0,957.6 922.5,946.5 922.9,935.2 923.5,924.1 924.1,913.7 925.0,904.3 925.7,898.3 926.4,892.8 927.2,887.6 928.2,882.6 929.5,877.7 930.9,873.3 932.5,869.0 934.3,864.9 936.2,860.9 938.3,857.0 940.4,853.4 942.6,849.9 944.9,846.5 947.5,843.4 950.2,840.7 952.8,838.6 955.6,836.7 958.5,835.1 961.6,833.8 965.0,832.7 970.0,831.9 975.7,831.8 981.6,832.0 987.1,832.1 991.6,831.8 993.5,831.4 995.1,830.8 996.5,830.2 998.1,829.7 1000.0,829.3 1004.8,829.0 1010.6,829.2 1017.0,829.6 1023.6,829.9 1029.8,829.9 1035.6,829.5 1041.2,828.9 1046.9,828.2 1052.9,827.5 1059.5,826.9 1070.1,826.3 1081.8,825.9 1094.2,825.5 1106.8,825.1 1119.0,824.8 1131.2,824.5 1143.6,824.2 1155.9,824.0 1167.7,823.7 1178.6,823.3 1186.5,822.8 1194.1,822.2 1201.4,821.7 1208.1,821.3 1214.3,821.3 1218.1,821.7 1221.5,822.3 1224.8,823.0 1228.2,823.6 1232.0,823.9 1238.3,823.8 1245.3,823.2 1252.6,822.3 1260.3,821.5 1267.9,821.0 1276.8,820.7 1286.4,820.5 1295.9,820.4 1304.8,820.6 1312.5,821.0 1316.7,821.4 1320.4,821.9 1323.9,822.4 1327.2,823.1 1330.4,823.9 1333.0,824.8 1335.4,826.0 1337.8,827.1 1340.1,828.1 1342.3,828.7 1344.2,828.7 1346.0,828.3 1347.8,827.8 1349.5,827.6 1351.2,827.8 1353.1,829.2 1355.1,831.6 1356.9,834.1 1358.5,836.1 1360.0,836.7 1361.1,835.5 1361.7,833.1 1362.3,830.0 1363.2,827.0 1364.6,824.8 1367.1,823.3 1370.3,822.3 1373.9,821.8 1377.6,821.5 1381.0,821.3 1384.0,821.5 1387.1,822.0 1390.1,822.6 1393.0,823.1 1395.8,823.3 1398.0,823.0 1400.0,822.4 1402.0,821.8 1404.1,821.2 1406.3,821.0 1409.3,821.3 1412.6,821.9 1416.0,822.9 1419.3,823.9 1422.6,824.8 1425.6,825.7 1428.6,826.8 1431.6,827.8 1434.5,828.7 1437.5,829.3 1440.5,829.4 1443.5,829.2 1446.6,828.8 1449.5,828.6 1452.4,828.7 1454.9,829.2 1457.2,829.8 1459.6,830.6 1461.9,831.5 1464.3,832.3 1466.9,833.3 1469.6,834.6 1472.3,835.7 1475.0,836.5 1477.7,836.7 1480.3,835.9 1482.7,834.3 1485.2,832.4 1487.9,830.6 1491.0,829.3 1496.1,828.4 1502.0,828.2 1508.3,828.4 1514.6,828.6 1520.8,828.7 1526.8,828.6 1532.7,828.6 1538.7,828.6 1544.7,828.6 1550.6,828.7 1556.6,828.7 1562.8,828.7 1568.9,828.8 1574.7,829.0 1580.0,829.6 1583.7,830.3 1587.2,831.3 1590.6,832.4 1593.7,833.4 1596.7,834.4 1598.9,835.0 1601.1,835.6 1603.1,836.1 1605.1,836.7 1607.0,837.5 1608.8,838.3 1610.6,839.2 1612.3,840.3 1614.0,841.4 1615.4,842.7 1616.7,844.2 1617.9,846.0 1618.9,847.8 1619.8,849.9 1620.6,852.0 1621.5,855.0 1622.1,858.2 1622.7,861.7 1623.2,865.2 1623.8,868.8 1624.5,872.8 1625.3,877.0 1626.0,881.3 1626.8,885.5 1627.5,889.6 1628.2,893.5 1628.9,897.3 1629.6,901.1 1630.3,904.8 1631.0,908.3 1631.6,911.0 1632.1,913.7 1632.7,916.2 1633.3,918.6 1634.2,920.8 1635.1,922.5 1636.0,924.0 1637.1,925.4 1638.2,926.7 1639.4,928.0 1640.5,929.3 1641.7,930.5 1643.0,931.7 1644.3,932.6 1645.6,933.0 1647.1,932.9 1648.6,932.3 1650.2,931.4 1651.7,930.3 1653.0,929.2 1654.2,927.8 1655.2,926.0 1656.1,924.2 1657.0,922.4 1658.0,920.8 1659.0,919.6 1660.0,918.6 1661.1,917.6 1662.2,916.6 1663.3,915.6 1664.5,914.3 1665.7,912.9 1667.0,911.6 1668.3,910.3 1669.6,909.4 1670.8,908.9 1672.0,908.6 1673.3,908.4 1674.5,908.2 1675.8,908.0 1677.1,907.7 1678.4,907.2 1679.6,906.9 1680.9,906.6 1682.0,906.7 1682.9,907.2 1683.7,908.0 1684.5,908.8 1685.4,909.6 1686.3,910.0 1687.6,909.9 1689.1,909.4 1690.6,908.6 1692.1,907.9 1693.5,907.3 1694.6,907.1 1695.7,907.0 1696.8,906.9 1697.8,906.7 1698.8,906.3 1700.1,905.3 1701.4,903.9 1702.6,902.3 1703.8,900.7 1705.0,899.0 1706.3,897.1 1707.5,895.0 1708.7,892.9 1710.0,891.1 1711.3,889.6 1712.3,888.8 1713.3,888.0 1714.4,887.5 1715.4,887.1 1716.5,887.0 1717.7,887.2 1719.0,887.7 1720.3,888.5 1721.6,889.5 1722.7,890.6 1724.0,892.4 1725.1,894.5 1726.2,896.9 1727.1,899.4 1728.0,902.0 1728.9,905.1 1729.8,908.5 1730.5,911.9 1731.2,915.4 1732.0,918.8 1732.8,922.2 1733.6,925.7 1734.5,929.2 1735.3,932.5 1736.3,935.4 1737.0,937.5 1737.7,939.6 1738.5,941.5 1739.4,943.0 1740.4,943.8 1741.6,943.9 1742.9,943.5 1744.3,942.7 1745.6,941.7 1746.7,940.6 1747.7,938.6 1748.2,936.0 1748.5,933.0 1748.8,930.0 1749.2,927.0 1749.9,923.7 1750.6,920.2 1751.3,916.7 1752.1,913.4 1753.0,910.4 1753.8,908.5 1754.6,906.9 1755.4,905.3 1756.2,903.7 1757.0,902.0 1757.7,900.0 1758.2,897.9 1758.8,895.7 1759.4,893.6 1760.2,891.7 1761.1,890.1 1762.1,888.5 1763.1,887.1 1764.2,885.7 1765.4,884.4 1766.6,883.2 1767.8,882.2 1769.1,881.1 1770.4,880.2 1771.7,879.2 1773.0,878.2 1774.3,877.0 1775.6,876.0 1776.9,875.3 1778.0,875.0 1778.7,875.3 1779.3,875.9 1779.9,876.7 1780.4,877.3 1781.0,877.5 1781.8,876.9 1782.6,875.6 1783.4,874.1 1784.2,872.7 1785.2,871.9 1786.2,871.7 1787.2,871.8 1788.3,872.1 1789.4,872.5 1790.4,873.0 1791.7,873.8 1793.1,874.9 1794.4,876.2 1795.7,877.6 1796.7,879.2 1797.7,881.2 1798.4,883.5 1798.9,886.0 1799.4,888.7 1799.8,891.7 1800.4,897.2 1800.7,903.3 1800.9,910.1 1801.1,917.4 1801.3,925.0 1801.6,936.3 1801.8,948.9 1802.0,962.0 1802.2,975.1 1802.5,987.5 1802.8,998.4 1803.1,1009.1 1803.4,1019.7 1803.7,1029.9 1804.0,1039.6 1804.2,1047.7 1804.4,1055.9 1804.7,1063.6 1805.0,1070.5 1805.4,1076.0 1805.6,1078.3 1805.8,1080.5 1806.1,1082.4 1806.4,1083.8 1807.0,1084.5 1807.5,1084.5 1808.2,1084.1 1808.9,1083.4 1809.6,1082.7 1810.2,1082.0 1810.9,1081.2 1811.6,1080.4 1812.2,1079.5 1812.8,1078.3 1813.3,1077.0 1814.1,1073.1 1814.5,1067.9 1814.7,1062.0 1814.8,1055.9 1815.0,1050.0 1815.3,1043.9 1815.6,1037.6 1815.9,1031.2 1816.2,1024.9 1816.5,1018.8 1816.7,1012.9 1816.8,1006.6 1817.0,1000.7 1817.5,995.5 1818.5,991.7 1819.2,990.5 1820.0,989.5 1820.9,988.7 1821.8,988.0 1822.7,987.5 1823.5,987.2 1824.4,987.1 1825.4,987.1 1826.2,986.9 1826.9,986.5 1827.6,985.2 1828.0,983.4 1828.3,981.4 1828.6,979.8 1829.0,979.2 1829.7,980.8 1830.4,984.6 1831.1,989.1 1832.0,993.0 1833.0,994.8 1833.8,994.5 1834.6,993.6 1835.5,992.3 1836.4,990.9 1837.3,989.6 1838.2,988.4 1839.0,987.2 1839.8,985.9 1840.6,984.6 1841.5,983.3 1842.5,981.7 1843.4,980.0 1844.4,978.3 1845.5,976.9 1846.7,976.0 1847.9,975.7 1849.2,975.8 1850.5,976.1 1851.8,976.5 1853.0,977.0 1854.1,977.6 1855.2,978.2 1856.3,979.0 1857.2,980.0 1858.0,981.3 1859.1,985.4 1859.6,991.0 1859.8,997.3 1859.9,1003.4 1860.2,1008.3 1860.5,1010.9 1860.7,1013.4 1861.0,1015.7 1861.3,1017.3 1861.7,1018.0 1862.2,1017.7 1862.7,1016.7 1863.3,1015.3 1863.9,1013.7 1864.4,1012.0 1865.1,1008.2 1865.5,1003.3 1865.8,998.0 1866.1,992.5 1866.5,987.5 1866.9,982.9 1867.3,978.2 1867.8,973.6 1868.5,969.7 1869.6,966.7 1870.3,965.6 1871.1,964.8 1872.0,964.1 1872.9,963.5 1873.8,963.0 1874.8,962.6 1875.9,962.3 1876.9,962.1 1878.0,961.9 1879.0,961.5 1879.9,960.8 1880.7,960.0 1881.5,959.1 1882.3,958.4 1883.0,958.3 1883.8,959.1 1884.4,960.7 1885.0,962.7 1885.6,964.8 1886.3,966.7 1887.0,968.4 1887.8,970.3 1888.6,972.1 1889.5,973.4 1890.4,974.0 1891.4,973.7 1892.4,972.8 1893.5,971.6 1894.6,970.1 1895.6,968.8 1896.7,967.2 1897.7,965.4 1898.7,963.6 1899.7,961.9 1900.8,960.4 1901.8,959.3 1902.8,958.3 1903.8,957.4 1904.9,956.7 1906.0,956.3 1907.0,956.4 1908.1,957.0 1909.2,957.6 1910.3,958.2 1911.3,958.3 1912.2,958.0 1913.1,957.6 1913.9,956.9 1914.7,956.1 1915.4,955.2 1916.3,953.5 1917.1,951.4 1917.8,949.2 1918.6,947.2 1919.6,945.8 1920.4,945.3 1921.3,944.8 1922.2,944.6 1923.0,944.6 1923.8,944.8 1924.8,945.8 1925.7,947.4 1926.5,949.5 1927.2,951.8 1927.9,954.2 1928.9,958.1 1929.8,962.6 1930.5,967.4 1931.3,972.3 1932.0,977.0 1932.7,981.3 1933.3,985.5 1933.9,989.7 1934.6,993.9 1935.2,998.0 1935.8,1001.9 1936.4,1005.7 1937.0,1009.6 1937.6,1013.2 1938.3,1016.7 1938.9,1019.4 1939.4,1022.0 1940.0,1024.6 1940.7,1026.9 1941.5,1029.2 1942.4,1031.3 1943.5,1033.5 1944.6,1035.5 1945.7,1037.0 1946.7,1037.5 1947.6,1036.9 1948.5,1035.4 1949.3,1033.4 1950.1,1031.3 1950.8,1029.2 1951.5,1026.8 1952.1,1024.3 1952.7,1021.6 1953.3,1019.1 1954.0,1016.7 1954.7,1014.9 1955.5,1013.1 1956.3,1011.4 1957.1,1009.8 1958.0,1008.3 1958.8,1006.9 1959.7,1005.5 1960.6,1004.2 1961.5,1003.3 1962.3,1003.0 1963.2,1003.8 1964.0,1005.7 1964.8,1008.1 1965.6,1010.5 1966.5,1012.5 1967.3,1013.9 1968.2,1015.3 1969.1,1016.5 1970.1,1017.4 1971.0,1017.7 1972.0,1017.2 1973.1,1015.9 1974.2,1014.1 1975.2,1012.2 1976.3,1010.4 1977.5,1008.4 1978.7,1006.2 1980.0,1003.9 1981.2,1001.8 1982.6,1000.0 1983.7,998.7 1984.9,997.5 1986.1,996.5 1987.4,995.6 1988.8,994.8 1990.7,994.3 1992.9,994.0 1995.2,993.9 1997.4,993.8 1999.3,993.3 2000.5,992.8 2001.7,992.2 2002.7,991.4 2003.6,990.6 2004.5,989.6 2005.5,988.0 2006.4,986.1 2007.2,983.9 2007.9,981.6 2008.6,979.2 2009.5,975.4 2010.3,971.1 2011.1,966.6 2011.9,962.2 2012.8,958.3 2013.6,955.4 2014.4,952.6 2015.2,950.0 2016.1,947.7 2017.0,945.8 2017.6,944.9 2018.2,944.0 2018.8,943.3 2019.4,942.8 2020.0,942.7 2020.8,943.1 2021.6,943.9 2022.4,945.1 2023.1,946.5 2023.8,948.0 2024.8,950.9 2025.6,954.5 2026.2,958.4 2026.8,962.6 2027.4,966.7 2028.0,971.5 2028.6,976.5 2029.1,981.6 2029.5,986.7 2030.0,991.7 2030.4,996.5 2030.7,1001.5 2031.0,1006.4 2031.5,1010.8 2032.2,1014.6 2032.8,1016.7 2033.4,1018.8 2034.1,1020.6 2034.9,1022.0 2035.7,1022.5 2036.5,1022.2 2037.3,1021.2 2038.2,1019.8 2039.1,1018.2 2039.9,1016.7 2041.0,1014.5 2042.0,1012.0 2043.0,1009.4 2044.0,1006.7 2045.0,1004.2 2046.0,1002.1 2047.1,1000.0 2048.2,998.0 2049.3,995.9 2050.3,993.8 2051.3,991.3 2052.3,988.7 2053.3,986.1 2054.3,983.6 2055.5,981.3 2056.6,979.6 2057.8,978.0 2059.1,976.6 2060.4,975.3 2061.8,974.0 2063.3,972.8 2065.0,971.6 2066.7,970.5 2068.4,969.6 2070.0,969.2 2071.3,969.3 2072.6,969.7 2073.8,970.2 2075.1,970.7 2076.3,970.8 2077.5,970.5 2078.7,969.8 2079.9,969.0 2081.1,968.4 2082.2,968.3 2083.4,968.8 2084.5,969.7 2085.6,970.8 2086.7,972.0 2087.8,973.0 2088.9,973.8 2090.0,974.5 2091.1,975.2 2092.1,976.0 2093.0,977.0 2093.9,978.7 2094.5,980.8 2095.0,983.1 2095.4,985.3 2096.0,987.5 2096.6,989.5 2097.1,991.4 2097.7,993.4 2098.4,995.2 2099.3,996.9 2100.3,998.3 2101.5,999.5 2102.8,1000.6 2104.2,1001.8 2105.5,1003.0 2107.1,1004.6 2108.8,1006.4 2110.5,1008.1 2112.2,1009.9 2113.8,1011.5 2115.1,1012.8 2116.5,1014.0 2117.7,1015.1 2118.9,1016.4 2120.0,1017.7 2120.9,1019.3 2121.7,1021.1 2122.4,1022.9 2123.0,1024.6 2123.8,1026.0 2124.4,1026.9 2125.0,1027.7 2125.6,1028.5 2126.2,1029.0 2126.8,1029.2 2127.5,1029.0 2128.3,1028.6 2129.1,1027.8 2129.8,1027.0 2130.5,1026.0 2131.4,1024.3 2132.2,1022.1 2133.0,1019.8 2133.6,1017.2 2134.3,1014.6 2135.1,1011.1 2135.8,1007.4 2136.4,1003.5 2137.1,999.6 2137.8,995.8 2138.6,992.4 2139.3,988.9 2140.2,985.6 2141.0,982.3 2142.0,979.2 2142.9,976.5 2143.9,973.9 2145.0,971.3 2146.1,968.9 2147.2,966.7 2148.1,964.9 2149.1,963.2 2150.1,961.6 2151.2,960.3 2152.4,959.4 2153.5,959.2 2154.8,959.4 2156.1,959.8 2157.4,960.1 2158.6,960.0 2159.9,959.3 2161.2,958.2 2162.5,957.1 2163.8,956.1 2164.9,955.8 2165.8,956.0 2166.7,956.6 2167.5,957.4 2168.3,958.4 2169.0,959.4 2170.0,961.3 2170.8,963.7 2171.5,966.3 2172.3,968.7 2173.2,970.8 2174.0,972.0 2174.8,973.0 2175.6,974.0 2176.5,974.9 2177.4,976.0 2178.5,977.6 2179.7,979.3 2180.9,981.0 2182.2,982.6 2183.6,983.8 2184.8,984.5 2186.1,984.9 2187.4,985.2 2188.7,985.5 2189.9,985.8 2190.9,986.2 2191.9,986.6 2192.9,987.1 2193.9,987.4 2195.0,987.5 2196.4,987.3 2198.0,986.6 2199.6,985.9 2201.1,985.4 2202.4,985.4 2203.4,985.8 2204.3,986.5 2205.1,987.4 2205.8,988.4 2206.5,989.6 2207.6,992.2 2208.4,995.5 2209.1,999.2 2209.9,1002.9 2210.7,1006.3 2211.4,1009.1 2212.0,1011.9 2212.6,1014.6 2213.6,1017.0 2214.9,1018.8 2216.6,1020.0 2218.8,1020.8 2221.1,1021.2 2223.3,1021.4 2225.3,1021.3 2226.7,1021.0 2228.0,1020.4 2229.2,1019.6 2230.3,1018.7 2231.5,1017.7 2233.0,1016.1 2234.5,1014.2 2235.9,1012.1 2237.3,1010.1 2238.8,1008.3 2240.0,1007.1 2241.2,1005.9 2242.3,1004.8 2243.6,1003.9 2245.0,1003.0 2246.8,1002.1 2248.7,1001.3 2250.7,1000.6 2252.7,1000.2 2254.5,1000.0 2255.8,1000.2 2257.1,1000.6 2258.3,1001.1 2259.5,1001.6 2260.7,1001.7 2261.9,1001.4 2263.0,1000.8 2264.2,1000.1 2265.3,999.6 2266.3,999.6 2267.4,1000.4 2268.5,1001.9 2269.4,1003.9 2270.2,1006.1 2271.0,1008.3 2272.1,1011.9 2273.0,1016.0 2273.8,1020.4 2274.6,1024.9 2275.3,1029.2 2276.0,1033.3 2276.7,1037.3 2277.3,1041.4 2277.9,1045.6 2278.4,1050.0 2279.0,1055.8 2279.5,1062.1 2280.0,1068.5 2280.4,1074.9 2280.9,1081.3 2281.3,1087.7 2281.7,1094.3 2282.1,1100.8 2282.5,1107.0 2283.0,1112.5 2283.4,1116.3 2283.9,1120.3 2284.4,1123.9 2285.0,1126.5 2285.5,1127.5 2286.1,1126.5 2286.7,1123.8 2287.3,1120.1 2287.9,1116.1 2288.4,1112.5 2288.9,1108.5 2289.4,1104.4 2289.9,1100.1 2290.4,1095.8 2290.9,1091.7 2291.4,1087.7 2291.8,1083.7 2292.3,1079.7 2293.0,1076.1 2294.0,1073.0 2294.9,1071.2 2295.9,1069.6 2297.0,1068.1 2298.1,1066.8 2299.3,1065.6 2300.3,1064.7 2301.4,1064.0 2302.5,1063.3 2303.5,1062.5 2304.5,1061.5 2305.7,1059.3 2306.7,1056.7 2307.7,1053.7 2308.6,1050.7 2309.7,1047.9 2310.9,1045.3 2312.1,1042.8 2313.4,1040.3 2314.7,1037.8 2316.0,1035.4 2317.2,1032.9 2318.4,1030.3 2319.6,1027.8 2320.9,1025.9 2322.2,1025.0 2323.2,1025.1 2324.4,1025.7 2325.5,1026.6 2326.5,1027.9 2327.4,1029.2 2328.6,1032.2 2329.4,1036.2 2330.0,1040.7 2330.4,1045.4 2331.0,1050.0 2331.7,1055.2 2332.4,1060.6 2333.0,1066.2 2333.7,1071.7 2334.3,1077.0 2334.8,1082.0 2335.3,1087.2 2335.8,1092.2 2336.4,1096.6 2337.2,1100.0 2337.7,1101.3 2338.2,1102.5 2338.7,1103.5 2339.3,1104.2 2340.0,1104.6 2340.9,1104.3 2341.9,1103.3 2343.0,1102.2 2344.1,1101.3 2345.0,1101.0 2345.8,1101.7 2346.5,1103.0 2347.1,1104.7 2347.6,1106.5 2348.2,1108.3 2348.8,1110.4 2349.4,1112.7 2349.9,1115.0 2350.5,1117.1 2351.3,1118.8 2351.9,1119.7 2352.5,1120.5 2353.1,1121.2 2353.8,1121.7 2354.5,1121.9 2355.3,1121.6 2356.2,1120.9 2357.1,1119.9 2357.9,1118.8 2358.6,1117.7 2359.3,1116.4 2359.8,1115.0 2360.2,1113.5 2360.6,1111.8 2361.0,1110.0 2361.5,1106.9 2362.0,1103.5 2362.3,1099.8 2362.7,1095.9 2363.0,1092.0 2363.4,1086.7 2363.8,1080.4 2364.2,1074.3 2364.4,1069.8 2364.5,1068.0"/>
<path class="c" stroke="#1868df" d="M181.0,1159.5 185.4,1159.6 196.5,1159.8 211.3,1160.0 226.6,1160.4 239.4,1160.7 247.8,1161.0 255.6,1161.4 263.3,1161.7 271.0,1162.0 279.0,1162.3 288.6,1162.4 298.8,1162.3 308.9,1162.2 318.4,1162.3 326.7,1162.7 331.2,1163.2 335.2,1164.0 339.0,1164.7 342.7,1165.4 346.5,1165.9 350.6,1166.0 354.8,1165.7 358.9,1165.5 362.8,1165.4 366.3,1165.9 368.6,1166.6 370.7,1167.6 372.6,1168.7 374.4,1170.0 376.3,1171.4 378.3,1173.2 380.3,1175.2 382.2,1177.4 384.2,1179.5 386.2,1181.3 388.1,1182.6 390.1,1183.7 392.1,1184.8 394.1,1185.9 396.0,1187.3 398.1,1189.4 400.0,1191.8 401.9,1194.3 403.9,1196.9 406.0,1199.2 408.2,1201.2 410.6,1203.0 413.0,1204.8 415.4,1206.7 418.0,1209.0 421.7,1212.8 425.6,1217.1 429.7,1221.7 433.8,1226.5 437.8,1231.0 441.8,1235.4 445.7,1239.7 449.7,1244.1 453.6,1248.4 457.6,1252.8 461.6,1257.2 465.6,1261.5 469.5,1265.9 473.5,1270.2 477.5,1274.6 481.5,1279.0 485.4,1283.4 489.4,1287.8 493.3,1292.1 497.3,1296.4 501.2,1300.5 505.1,1304.5 509.1,1308.4 513.0,1312.4 517.0,1316.3 521.0,1320.3 524.9,1324.4 528.9,1328.4 532.9,1332.3 537.0,1336.0 541.0,1339.3 545.0,1342.6 549.1,1345.7 553.1,1348.4 556.8,1350.8 559.3,1352.2 561.7,1353.5 564.0,1354.6 566.3,1355.5 568.7,1356.3 571.0,1357.0 573.3,1357.5 575.7,1357.9 578.1,1358.2 580.6,1358.3 583.6,1358.2 586.8,1357.9 590.1,1357.4 593.3,1356.8 596.5,1356.0 599.7,1355.1 602.9,1353.9 606.1,1352.6 609.2,1351.3 612.4,1350.0 615.6,1348.6 618.7,1347.2 621.8,1345.7 625.0,1344.3 628.3,1342.9 632.1,1341.5 636.0,1340.1 640.0,1338.8 644.0,1337.4 648.0,1336.0 652.0,1334.5 656.0,1333.0 660.0,1331.5 664.0,1329.9 668.0,1328.2 672.0,1326.4 676.0,1324.5 680.0,1322.6 683.9,1320.5 687.8,1318.3 691.8,1315.8 695.8,1313.0 699.7,1310.1 703.7,1307.2 707.6,1304.4 711.6,1301.6 715.5,1298.8 719.5,1295.9 723.5,1293.2 727.5,1290.5 731.4,1288.0 735.4,1285.5 739.3,1283.1 743.3,1280.8 747.3,1278.6 751.2,1276.6 755.1,1274.7 759.0,1272.9 763.0,1271.3 767.0,1269.8 771.0,1268.5 774.9,1267.4 779.0,1266.4 783.0,1265.5 787.0,1264.7 791.1,1264.0 795.4,1263.3 799.6,1262.8 803.5,1262.3 806.8,1262.0 808.5,1261.8 810.0,1261.6 811.4,1261.5 812.7,1261.5 814.0,1261.6 815.3,1261.9 816.5,1262.2 817.8,1262.7 818.9,1263.3 820.0,1264.0 821.0,1264.9 821.9,1266.0 822.7,1267.3 823.6,1268.7 824.4,1270.3 825.9,1273.5 827.5,1277.4 829.1,1281.7 830.5,1286.3 831.8,1291.0 833.0,1296.9 834.0,1303.2 834.8,1309.8 835.5,1316.6 836.2,1323.6 837.1,1332.0 837.9,1340.9 838.6,1349.9 839.3,1359.0 840.0,1368.0 840.6,1377.0 841.2,1386.2 841.8,1395.3 842.4,1404.1 843.0,1412.4 843.6,1418.9 844.1,1425.2 844.7,1431.3 845.4,1436.9 846.0,1442.0 846.4,1445.4 846.8,1449.0 847.2,1452.2 847.7,1454.5 848.3,1455.4 849.3,1453.7 850.5,1449.6 851.8,1444.7 853.0,1440.7 854.0,1439.0 854.9,1440.7 855.5,1444.9 856.1,1450.6 856.5,1456.8 857.0,1462.7 857.5,1469.7 857.9,1477.0 858.3,1484.8 858.6,1492.8 859.0,1501.2 859.6,1512.2 860.2,1524.0 860.8,1536.1 861.4,1548.4 862.0,1560.4 862.6,1572.6 863.2,1585.0 863.8,1597.3 864.4,1609.0 865.0,1619.6 865.5,1626.4 865.9,1632.8 866.4,1638.8 866.9,1644.5 867.3,1650.0 867.6,1654.9 868.0,1660.2 868.3,1665.1 868.6,1668.6 869.0,1670.0 869.5,1667.6 870.1,1661.3 870.6,1652.7 871.2,1643.2 871.7,1634.4 872.3,1623.6 872.9,1612.1 873.5,1600.1 874.1,1587.7 874.7,1575.2 875.5,1560.8 876.2,1545.8 877.1,1530.6 878.0,1515.6 879.0,1501.2 880.1,1488.8 881.2,1476.6 882.4,1464.7 883.7,1453.2 885.0,1442.0 886.1,1432.5 887.3,1423.1 888.5,1414.1 889.7,1405.5 891.0,1397.6 892.1,1391.4 893.2,1384.8 894.3,1378.9 895.4,1374.6 896.3,1373.0 897.0,1374.8 897.6,1379.4 898.1,1385.6 898.5,1392.0 899.0,1397.6 899.4,1402.0 899.7,1406.5 900.0,1410.8 900.5,1414.8 901.3,1418.3 902.1,1420.3 903.0,1421.9 904.0,1423.4 905.0,1425.1 905.8,1427.2 906.8,1431.9 907.4,1437.5 907.9,1443.7 908.3,1450.2 908.7,1456.8 909.2,1465.4 909.6,1474.7 910.0,1484.2 910.5,1493.2 911.0,1501.2 911.5,1506.5 911.9,1512.1 912.5,1517.1 913.0,1520.6 913.5,1522.0 914.0,1520.7 914.6,1517.2 915.1,1512.3 915.6,1506.7 916.1,1501.2 916.7,1491.4 917.1,1480.0 917.5,1467.6 917.8,1454.7 918.2,1442.0 918.7,1427.5 919.1,1412.3 919.5,1397.0 920.0,1382.0 920.6,1368.0 921.1,1357.1 921.6,1346.4 922.1,1336.2 922.8,1326.6 923.5,1317.7 924.1,1311.7 924.7,1306.1 925.3,1300.9 926.1,1295.8 927.0,1291.0 927.8,1287.2 928.7,1283.6 929.7,1280.1 930.9,1276.7 932.4,1273.3 934.3,1269.6 936.6,1266.0 939.0,1262.4 941.7,1258.9 944.3,1255.5 947.0,1252.0 949.8,1248.5 952.7,1245.1 955.8,1242.0 959.0,1239.2 962.3,1236.9 965.8,1234.9 969.4,1233.2 973.1,1231.7 976.8,1230.4 980.5,1229.5 984.4,1228.9 988.2,1228.5 991.7,1228.0 994.6,1227.4 995.8,1227.0 996.8,1226.5 997.7,1226.0 998.7,1225.5 1000.0,1225.0 1004.2,1223.9 1009.7,1222.9 1016.0,1221.9 1022.8,1220.9 1029.8,1219.8 1040.4,1218.2 1052.1,1216.6 1064.5,1214.9 1077.1,1213.3 1089.3,1211.7 1101.3,1210.1 1113.5,1208.6 1125.6,1207.1 1137.4,1205.6 1148.8,1204.3 1158.5,1203.2 1168.3,1202.3 1177.7,1201.3 1186.2,1200.5 1193.5,1199.8 1197.0,1199.4 1200.1,1199.0 1202.9,1198.7 1205.6,1198.4 1208.3,1198.3 1210.8,1198.2 1213.3,1198.2 1215.7,1198.3 1218.0,1198.5 1220.2,1198.9 1222.1,1199.5 1223.9,1200.4 1225.7,1201.4 1227.4,1202.2 1229.2,1202.8 1231.0,1203.0 1232.8,1202.9 1234.6,1202.7 1236.3,1202.7 1238.0,1203.0 1239.6,1204.0 1241.2,1205.4 1242.7,1207.0 1244.1,1208.3 1245.5,1208.8 1246.5,1208.5 1247.4,1207.8 1248.2,1206.9 1249.1,1206.2 1250.0,1205.8 1250.9,1206.0 1251.7,1206.6 1252.6,1207.3 1253.5,1207.8 1254.5,1208.0 1255.8,1207.5 1257.2,1206.3 1258.6,1205.0 1260.2,1203.7 1262.0,1202.8 1265.0,1202.5 1268.6,1202.7 1272.4,1203.2 1276.2,1203.9 1279.8,1204.3 1283.0,1204.6 1286.1,1205.0 1289.2,1205.3 1292.1,1205.4 1294.6,1205.2 1296.0,1204.8 1297.1,1204.2 1298.2,1203.5 1299.3,1203.0 1300.6,1202.8 1302.7,1203.2 1305.0,1204.1 1307.4,1205.4 1310.0,1206.7 1312.5,1207.9 1315.4,1209.0 1318.4,1210.0 1321.5,1211.0 1324.5,1212.1 1327.4,1213.2 1329.9,1214.4 1332.2,1215.6 1334.5,1216.9 1336.9,1218.1 1339.3,1219.2 1342.0,1220.1 1344.9,1220.7 1347.7,1221.4 1350.4,1222.3 1352.7,1223.6 1354.6,1225.8 1356.2,1228.7 1357.6,1231.6 1358.8,1233.8 1360.0,1234.6 1361.0,1233.4 1361.6,1230.7 1362.3,1227.2 1363.1,1223.6 1364.6,1220.7 1367.2,1218.1 1370.4,1215.5 1374.0,1213.4 1377.7,1211.8 1381.0,1211.0 1383.5,1211.3 1385.9,1212.4 1388.3,1213.8 1390.6,1215.1 1392.9,1215.6 1394.7,1215.3 1396.5,1214.6 1398.2,1213.7 1399.9,1213.0 1401.8,1212.6 1404.1,1212.8 1406.4,1213.3 1408.9,1214.0 1411.3,1214.9 1413.7,1215.6 1416.1,1216.2 1418.5,1216.7 1420.8,1217.3 1423.2,1218.1 1425.6,1219.2 1428.6,1221.3 1431.5,1224.2 1434.5,1227.1 1437.5,1229.6 1440.5,1231.0 1442.9,1231.2 1445.4,1230.8 1447.8,1230.0 1450.2,1229.0 1452.4,1228.0 1454.4,1226.7 1456.2,1225.0 1458.0,1223.2 1459.7,1221.9 1461.3,1221.5 1462.6,1222.1 1463.7,1223.4 1464.8,1225.1 1466.0,1226.7 1467.3,1228.0 1468.9,1228.9 1470.6,1229.8 1472.5,1230.5 1474.3,1230.9 1476.2,1231.0 1478.3,1230.7 1480.6,1230.1 1482.8,1229.2 1484.9,1228.0 1486.6,1226.6 1487.7,1224.9 1488.4,1222.7 1489.0,1220.4 1489.7,1218.3 1491.0,1216.8 1493.3,1215.9 1496.1,1215.6 1499.2,1215.7 1502.6,1216.0 1506.0,1216.2 1510.5,1216.4 1515.4,1216.6 1520.4,1217.0 1525.3,1217.6 1529.8,1218.3 1533.0,1219.1 1536.1,1220.2 1539.0,1221.2 1541.8,1222.1 1544.6,1222.7 1547.1,1222.7 1549.5,1222.4 1551.9,1222.1 1554.3,1221.8 1556.5,1222.0 1558.4,1222.6 1560.1,1223.6 1561.8,1224.7 1563.6,1225.8 1565.5,1226.6 1568.2,1227.2 1571.2,1227.6 1574.4,1227.9 1577.3,1228.3 1580.0,1229.0 1581.9,1229.9 1583.6,1231.0 1585.1,1232.2 1586.7,1233.4 1588.3,1234.6 1590.0,1235.8 1591.7,1236.9 1593.3,1238.1 1595.0,1239.3 1596.7,1240.4 1598.4,1241.4 1600.0,1242.4 1601.7,1243.4 1603.4,1244.4 1605.0,1245.6 1606.8,1247.0 1608.5,1248.6 1610.3,1250.2 1611.9,1252.0 1613.3,1254.0 1614.6,1256.4 1615.8,1259.0 1616.8,1261.8 1617.7,1264.6 1618.5,1267.5 1619.3,1270.7 1620.0,1273.9 1620.6,1277.3 1621.1,1280.7 1621.7,1284.2 1622.4,1288.2 1623.0,1292.3 1623.6,1296.4 1624.2,1300.7 1624.8,1305.0 1625.5,1309.8 1626.1,1314.8 1626.8,1319.8 1627.4,1324.9 1628.0,1330.0 1628.6,1335.3 1629.2,1340.7 1629.8,1346.1 1630.4,1351.6 1631.0,1357.0 1631.6,1362.5 1632.2,1368.1 1632.9,1373.7 1633.5,1379.1 1634.2,1384.2 1634.8,1388.3 1635.4,1392.3 1636.0,1396.1 1636.6,1399.7 1637.3,1403.0 1637.8,1405.4 1638.4,1407.8 1639.0,1409.9 1639.6,1411.8 1640.4,1413.3 1640.9,1414.0 1641.4,1414.6 1642.0,1415.0 1642.5,1415.3 1643.0,1415.4 1643.6,1415.1 1644.1,1414.4 1644.6,1413.5 1645.1,1412.5 1645.6,1411.3 1646.4,1408.7 1647.1,1405.6 1647.7,1402.0 1648.2,1398.2 1648.8,1394.6 1649.4,1390.6 1650.1,1386.3 1650.7,1382.1 1651.3,1377.9 1651.9,1373.8 1652.5,1370.3 1653.1,1367.0 1653.8,1363.7 1654.4,1360.4 1655.0,1357.0 1655.6,1353.2 1656.1,1349.2 1656.7,1345.3 1657.3,1341.6 1658.0,1338.3 1658.6,1336.3 1659.2,1334.5 1659.8,1332.9 1660.5,1331.4 1661.3,1330.0 1662.0,1329.0 1662.8,1328.1 1663.6,1327.2 1664.5,1326.5 1665.4,1325.8 1666.3,1325.2 1667.2,1324.6 1668.2,1324.1 1669.1,1323.8 1670.0,1323.8 1671.0,1324.3 1672.0,1325.3 1672.9,1326.5 1673.8,1327.8 1674.8,1329.0 1675.9,1330.2 1676.9,1331.4 1678.0,1332.6 1679.0,1333.9 1680.0,1335.2 1680.9,1336.6 1681.8,1338.0 1682.7,1339.5 1683.5,1341.0 1684.2,1342.5 1684.8,1344.0 1685.2,1345.5 1685.6,1347.0 1686.1,1348.5 1686.7,1349.8 1687.3,1350.8 1688.0,1351.7 1688.7,1352.6 1689.5,1353.3 1690.4,1354.0 1691.5,1354.7 1692.8,1355.3 1694.1,1355.8 1695.5,1356.1 1696.7,1356.0 1698.1,1355.4 1699.4,1354.3 1700.7,1352.9 1701.9,1351.4 1703.0,1349.8 1704.2,1347.8 1705.2,1345.6 1706.2,1343.3 1707.1,1340.8 1708.0,1338.3 1709.1,1335.2 1710.2,1331.9 1711.3,1328.5 1712.3,1325.1 1713.3,1321.7 1714.2,1318.4 1715.0,1315.0 1715.9,1311.6 1716.7,1308.3 1717.5,1305.0 1718.3,1302.0 1719.1,1298.9 1719.9,1296.0 1720.7,1293.1 1721.7,1290.4 1722.6,1288.1 1723.6,1286.0 1724.6,1283.9 1725.7,1281.9 1726.9,1280.0 1728.2,1278.2 1729.7,1276.5 1731.2,1274.9 1732.7,1273.3 1734.2,1271.7 1735.5,1270.1 1736.6,1268.5 1737.8,1266.9 1739.1,1265.5 1740.4,1264.4 1741.6,1263.9 1742.9,1263.7 1744.2,1263.6 1745.5,1263.4 1746.7,1263.0 1748.0,1261.9 1749.3,1260.4 1750.6,1258.8 1751.8,1257.6 1753.0,1257.0 1754.0,1257.3 1755.0,1258.1 1756.0,1259.1 1757.0,1259.9 1758.0,1260.2 1759.2,1259.7 1760.5,1258.5 1761.8,1257.1 1763.1,1255.9 1764.4,1255.4 1765.5,1255.6 1766.6,1256.1 1767.7,1256.9 1768.7,1257.8 1769.6,1258.8 1770.5,1259.9 1771.3,1261.0 1772.0,1262.3 1772.7,1263.8 1773.3,1265.4 1774.0,1268.7 1774.4,1272.9 1774.6,1277.3 1775.0,1281.2 1775.8,1284.2 1776.4,1285.3 1777.0,1286.4 1777.7,1287.3 1778.4,1287.8 1779.0,1288.0 1779.6,1287.6 1780.2,1286.5 1780.8,1285.1 1781.3,1283.6 1781.7,1282.0 1782.1,1279.4 1782.1,1276.3 1782.1,1273.0 1782.3,1270.0 1783.0,1267.5 1783.8,1266.0 1784.8,1264.6 1786.0,1263.5 1787.1,1262.6 1788.3,1262.3 1789.5,1262.6 1790.9,1263.5 1792.2,1264.7 1793.5,1266.1 1794.6,1267.5 1795.6,1268.9 1796.6,1270.4 1797.4,1272.0 1798.1,1273.8 1798.8,1275.8 1799.5,1279.2 1800.0,1283.1 1800.3,1287.4 1800.5,1291.9 1800.8,1296.7 1801.2,1303.8 1801.6,1311.6 1801.9,1319.8 1802.2,1328.1 1802.5,1336.3 1802.8,1344.7 1803.1,1353.2 1803.4,1361.7 1803.7,1370.0 1804.0,1378.0 1804.3,1385.0 1804.5,1392.1 1804.7,1398.9 1805.0,1405.0 1805.4,1410.0 1805.6,1412.2 1805.7,1414.4 1805.8,1416.2 1806.1,1417.7 1806.7,1418.5 1807.3,1418.7 1808.0,1418.5 1808.7,1418.2 1809.5,1417.9 1810.2,1417.5 1810.9,1417.2 1811.6,1416.8 1812.2,1416.3 1812.8,1415.8 1813.3,1415.0 1814.0,1412.8 1814.4,1409.8 1814.6,1406.3 1814.8,1402.5 1815.0,1398.8 1815.4,1393.7 1815.7,1388.1 1816.1,1382.3 1816.5,1376.7 1817.0,1371.7 1817.4,1368.3 1817.8,1364.9 1818.3,1361.8 1818.9,1359.1 1819.6,1357.0 1820.0,1356.1 1820.5,1355.3 1821.0,1354.6 1821.5,1354.2 1822.0,1354.0 1822.7,1354.5 1823.4,1355.6 1824.2,1357.0 1825.0,1358.2 1825.8,1358.8 1826.6,1358.7 1827.5,1358.2 1828.4,1357.5 1829.3,1357.0 1830.0,1357.0 1830.8,1358.2 1831.4,1360.4 1831.8,1363.0 1832.3,1365.1 1833.0,1366.0 1833.8,1365.6 1834.6,1364.4 1835.5,1362.7 1836.4,1360.8 1837.3,1359.2 1838.3,1357.6 1839.3,1355.8 1840.4,1354.1 1841.4,1352.4 1842.5,1350.8 1843.5,1349.4 1844.5,1348.1 1845.5,1346.8 1846.6,1345.6 1847.7,1344.6 1848.8,1343.7 1850.0,1342.8 1851.2,1342.0 1852.3,1341.5 1853.3,1341.5 1854.2,1342.2 1855.1,1343.4 1855.8,1345.0 1856.4,1346.9 1857.0,1348.8 1857.7,1352.1 1858.2,1356.1 1858.7,1360.3 1859.1,1364.2 1859.6,1367.5 1860.0,1369.2 1860.4,1371.0 1860.8,1372.5 1861.2,1373.6 1861.7,1374.0 1862.2,1373.7 1862.8,1372.9 1863.4,1371.7 1863.9,1370.4 1864.4,1369.0 1865.0,1366.3 1865.3,1363.1 1865.6,1359.5 1866.0,1356.1 1866.5,1353.0 1867.0,1350.7 1867.6,1348.3 1868.2,1346.2 1869.0,1344.5 1870.0,1343.5 1871.0,1343.4 1872.1,1343.8 1873.3,1344.4 1874.6,1345.1 1875.8,1345.6 1877.1,1345.8 1878.4,1345.9 1879.7,1346.0 1881.0,1346.2 1882.0,1346.7 1882.9,1347.6 1883.6,1348.7 1884.2,1350.0 1884.7,1351.5 1885.2,1353.0 1885.8,1355.6 1886.3,1358.7 1886.7,1362.0 1887.2,1365.0 1888.0,1367.5 1888.7,1368.9 1889.6,1370.3 1890.5,1371.5 1891.5,1372.4 1892.5,1372.7 1893.7,1372.3 1894.9,1371.1 1896.2,1369.5 1897.5,1367.8 1898.8,1366.5 1900.0,1365.5 1901.2,1364.4 1902.4,1363.4 1903.7,1362.7 1905.0,1362.3 1906.4,1362.6 1907.9,1363.5 1909.5,1364.5 1910.9,1365.3 1912.3,1365.4 1913.7,1364.3 1914.9,1362.4 1916.1,1360.0 1917.3,1357.7 1918.5,1356.0 1919.5,1355.1 1920.4,1354.3 1921.4,1353.7 1922.4,1353.3 1923.3,1353.3 1924.2,1353.8 1925.1,1354.8 1926.0,1356.1 1926.8,1357.6 1927.5,1359.2 1928.6,1362.2 1929.6,1365.8 1930.4,1369.9 1931.2,1374.0 1932.0,1378.0 1932.7,1382.1 1933.4,1386.2 1934.0,1390.4 1934.6,1394.6 1935.2,1398.8 1935.8,1402.9 1936.4,1407.0 1937.0,1411.1 1937.6,1415.3 1938.3,1419.6 1939.0,1424.7 1939.7,1430.2 1940.5,1435.6 1941.4,1440.6 1942.5,1444.6 1943.3,1446.6 1944.1,1448.6 1944.9,1450.3 1945.8,1451.5 1946.7,1452.0 1947.5,1451.6 1948.4,1450.6 1949.2,1449.1 1950.0,1447.5 1950.8,1446.0 1951.7,1444.2 1952.5,1442.3 1953.4,1440.3 1954.2,1438.3 1955.0,1436.3 1955.8,1434.2 1956.6,1431.9 1957.4,1429.7 1958.3,1427.6 1959.2,1425.8 1960.0,1424.4 1960.8,1423.0 1961.6,1421.8 1962.5,1420.9 1963.3,1420.6 1964.1,1421.2 1964.9,1422.7 1965.7,1424.6 1966.6,1426.5 1967.5,1428.0 1968.4,1429.0 1969.4,1430.0 1970.4,1430.8 1971.5,1431.5 1972.7,1432.0 1974.2,1432.1 1975.8,1431.8 1977.5,1431.4 1979.1,1431.1 1980.5,1431.3 1981.5,1432.0 1982.4,1433.0 1983.1,1434.2 1983.9,1435.4 1984.7,1436.5 1985.5,1437.5 1986.4,1438.6 1987.2,1439.7 1988.0,1440.4 1988.8,1440.6 1989.7,1440.0 1990.5,1438.6 1991.4,1436.9 1992.2,1435.0 1993.0,1433.3 1993.8,1431.8 1994.6,1430.3 1995.4,1428.8 1996.3,1427.3 1997.2,1426.0 1998.2,1424.9 1999.3,1424.0 2000.4,1423.1 2001.5,1422.1 2002.4,1420.8 2003.5,1418.2 2004.4,1415.0 2005.1,1411.4 2005.8,1407.8 2006.5,1404.2 2007.3,1400.4 2008.1,1396.4 2008.9,1392.4 2009.7,1388.7 2010.7,1385.4 2011.4,1383.3 2012.2,1381.3 2013.0,1379.5 2013.9,1378.0 2014.9,1377.0 2015.7,1376.6 2016.5,1376.3 2017.4,1376.1 2018.3,1376.2 2019.0,1376.5 2019.9,1377.5 2020.7,1379.0 2021.4,1381.0 2022.0,1383.2 2022.6,1385.4 2023.4,1388.7 2024.1,1392.3 2024.8,1396.3 2025.4,1400.3 2026.0,1404.2 2026.6,1408.3 2027.3,1412.3 2027.9,1416.5 2028.5,1420.7 2029.0,1425.0 2029.5,1430.0 2030.0,1435.2 2030.5,1440.5 2031.0,1445.5 2031.5,1450.0 2031.8,1453.0 2032.1,1455.9 2032.5,1458.7 2032.9,1461.0 2033.6,1463.0 2034.1,1464.0 2034.8,1465.0 2035.5,1465.8 2036.1,1466.3 2036.8,1466.5 2037.6,1466.1 2038.3,1465.0 2039.1,1463.6 2039.8,1462.0 2040.5,1460.5 2041.3,1458.6 2041.9,1456.5 2042.6,1454.3 2043.2,1452.1 2044.0,1450.0 2044.8,1448.3 2045.6,1446.6 2046.5,1445.0 2047.4,1443.4 2048.2,1441.7 2049.0,1439.7 2049.8,1437.6 2050.6,1435.4 2051.5,1433.3 2052.4,1431.3 2053.3,1429.5 2054.3,1427.7 2055.3,1426.0 2056.4,1424.4 2057.6,1423.0 2058.7,1421.9 2059.9,1421.0 2061.2,1420.1 2062.5,1419.4 2063.8,1418.8 2065.0,1418.3 2066.3,1417.9 2067.6,1417.6 2068.8,1417.5 2070.0,1417.7 2071.1,1418.4 2072.2,1419.6 2073.2,1420.9 2074.2,1422.2 2075.3,1423.0 2076.3,1423.4 2077.3,1423.5 2078.4,1423.6 2079.5,1423.5 2080.5,1423.3 2081.6,1422.9 2082.6,1422.2 2083.6,1421.4 2084.7,1420.5 2085.7,1419.8 2086.8,1419.0 2087.9,1418.2 2089.0,1417.4 2090.0,1416.8 2091.0,1416.7 2091.9,1417.1 2092.7,1417.8 2093.4,1418.8 2094.2,1419.9 2095.0,1420.8 2095.8,1421.8 2096.7,1422.8 2097.5,1423.8 2098.4,1424.6 2099.3,1425.0 2100.3,1424.8 2101.3,1424.1 2102.3,1423.3 2103.4,1422.4 2104.5,1421.9 2105.7,1421.6 2107.0,1421.5 2108.3,1421.5 2109.5,1421.6 2110.7,1421.9 2111.8,1422.5 2112.9,1423.2 2114.0,1424.1 2115.0,1425.1 2116.0,1426.0 2117.0,1426.8 2118.1,1427.6 2119.1,1428.3 2120.1,1429.2 2121.0,1430.2 2121.8,1431.5 2122.4,1433.1 2123.0,1434.7 2123.6,1436.2 2124.3,1437.5 2124.9,1438.3 2125.5,1439.2 2126.1,1439.9 2126.7,1440.4 2127.4,1440.6 2128.2,1440.3 2129.1,1439.6 2129.9,1438.7 2130.8,1437.6 2131.5,1436.5 2132.2,1435.2 2132.9,1433.8 2133.5,1432.3 2134.1,1430.8 2134.7,1429.2 2135.5,1427.2 2136.2,1425.0 2137.0,1422.8 2137.8,1420.7 2138.8,1418.8 2139.7,1417.3 2140.7,1415.9 2141.8,1414.6 2142.9,1413.5 2144.0,1412.5 2145.0,1411.8 2146.1,1411.1 2147.1,1410.6 2148.2,1410.2 2149.3,1410.0 2150.3,1410.0 2151.4,1410.2 2152.5,1410.5 2153.5,1411.0 2154.5,1411.5 2155.6,1412.3 2156.6,1413.5 2157.6,1414.7 2158.6,1415.8 2159.7,1416.7 2160.7,1417.2 2161.8,1417.6 2162.8,1417.9 2163.9,1418.3 2164.9,1418.8 2166.0,1419.6 2167.1,1420.6 2168.1,1421.6 2169.1,1422.8 2170.0,1424.0 2170.9,1425.5 2171.8,1427.3 2172.6,1429.1 2173.4,1430.8 2174.3,1432.3 2175.1,1433.3 2175.9,1434.2 2176.7,1435.0 2177.5,1435.8 2178.4,1436.5 2179.2,1437.1 2180.1,1437.7 2180.9,1438.2 2181.8,1438.8 2182.6,1439.6 2183.9,1441.2 2185.1,1443.2 2186.3,1445.5 2187.6,1447.8 2188.8,1450.0 2190.0,1452.3 2191.2,1454.7 2192.3,1457.1 2193.6,1459.4 2195.0,1461.5 2196.6,1463.3 2198.4,1464.9 2200.2,1466.5 2201.9,1468.1 2203.4,1469.8 2204.5,1471.6 2205.4,1473.4 2206.2,1475.2 2206.9,1477.2 2207.6,1479.2 2208.3,1481.5 2209.0,1484.0 2209.6,1486.5 2210.2,1489.0 2210.7,1491.7 2211.3,1495.0 2211.8,1498.5 2212.3,1502.0 2212.8,1505.4 2213.4,1508.3 2213.8,1510.3 2214.3,1512.3 2214.8,1514.1 2215.3,1515.4 2216.0,1516.0 2216.8,1515.4 2217.8,1513.9 2218.8,1511.9 2219.9,1510.2 2221.0,1509.4 2222.0,1509.5 2223.1,1509.9 2224.2,1510.7 2225.3,1511.6 2226.3,1512.5 2227.4,1513.6 2228.3,1514.9 2229.3,1516.3 2230.3,1517.6 2231.5,1518.8 2233.2,1519.9 2235.1,1520.9 2237.2,1521.8 2239.2,1522.8 2241.0,1524.0 2242.6,1525.4 2244.1,1527.1 2245.5,1528.8 2246.9,1530.5 2248.2,1532.3 2249.5,1534.1 2250.8,1536.0 2252.1,1537.8 2253.3,1539.8 2254.5,1541.7 2255.6,1543.7 2256.6,1545.7 2257.6,1547.8 2258.6,1549.9 2259.7,1552.0 2260.9,1554.3 2262.2,1556.5 2263.5,1558.9 2264.8,1561.2 2266.0,1563.5 2267.1,1565.7 2268.2,1568.0 2269.2,1570.2 2270.1,1572.5 2271.0,1575.0 2271.8,1578.1 2272.5,1581.4 2273.1,1584.9 2273.7,1588.3 2274.3,1591.7 2274.9,1595.0 2275.6,1598.3 2276.2,1601.7 2276.8,1605.0 2277.4,1608.3 2278.0,1611.6 2278.7,1614.9 2279.3,1618.2 2279.9,1621.6 2280.5,1625.0 2281.1,1628.7 2281.6,1632.5 2282.1,1636.4 2282.5,1640.2 2283.0,1643.8 2283.3,1647.2 2283.4,1650.8 2283.6,1654.3 2284.0,1657.0 2285.0,1658.5 2286.0,1658.6 2287.1,1658.1 2288.4,1657.3 2289.8,1656.7 2291.0,1656.5 2292.3,1656.9 2293.6,1657.6 2294.8,1658.6 2296.0,1659.8 2297.2,1661.0 2298.5,1662.7 2299.7,1664.6 2300.9,1666.6 2302.1,1668.7 2303.4,1670.6 2304.8,1672.4 2306.2,1674.1 2307.6,1675.8 2309.1,1677.4 2310.7,1678.8 2312.1,1679.8 2313.6,1680.7 2315.1,1681.5 2316.6,1682.2 2318.0,1682.9 2319.3,1683.5 2320.7,1684.0 2322.0,1684.5 2323.3,1685.1 2324.3,1686.0 2325.2,1687.4 2325.9,1689.1 2326.4,1691.0 2326.9,1693.1 2327.4,1695.4 2328.3,1699.9 2329.1,1705.3 2329.9,1711.1 2330.7,1716.9 2331.5,1722.5 2332.2,1727.7 2332.9,1733.0 2333.7,1738.2 2334.5,1743.1 2335.7,1747.5 2336.8,1750.3 2338.1,1752.9 2339.5,1755.2 2340.8,1757.6 2342.0,1760.0 2342.9,1762.5 2343.8,1765.1 2344.5,1767.6 2345.2,1770.1 2346.0,1772.5 2346.7,1774.4 2347.4,1776.3 2348.1,1778.1 2348.7,1779.9 2349.3,1781.9 2350.0,1784.8 2350.7,1788.2 2351.4,1791.5 2351.8,1794.0 2352.0,1795.0"/>
</g>
<g fill="#000">
<rect x="174" y="20" width="7.2" height="1798"/>
<rect x="174" y="1782" width="2193" height="7.3"/>
<rect x="495.4" y="1785" width="7.2" height="33"/>
<rect x="816.9" y="1785" width="7.2" height="33"/>
<rect x="1138.4" y="1785" width="7.2" height="33"/>
<rect x="1459.9" y="1785" width="7.2" height="33"/>
<rect x="1781.4" y="1785" width="7.2" height="33"/>
<rect x="2102.9" y="1785" width="7.2" height="33"/>
</g>
<text class="tick" x="177.0" y="1912" text-anchor="middle">4000</text>
<text class="tick" x="497.0" y="1912" text-anchor="middle">3500</text>
<text class="tick" x="818.5" y="1912" text-anchor="middle">3000</text>
<text class="tick" x="1140.0" y="1912" text-anchor="middle">2500</text>
<text class="tick" x="1461.5" y="1912" text-anchor="middle">2000</text>
<text class="tick" x="1783.0" y="1912" text-anchor="middle">1500</text>
<text class="tick" x="2104.5" y="1912" text-anchor="middle">1000</text>
<text class="ylab" transform="translate(93.8,0) rotate(-90)"><tspan x="-1345.5" y="0" textLength="633.6" lengthAdjust="spacingAndGlyphs">Transmittance</tspan> <tspan x="-686.5" y="0" font-size="104" textLength="226.4" lengthAdjust="spacingAndGlyphs">(a.u.)</tspan></text>
<text class="xlab" x="869" y="2113.3">Wavenumber (cm<tspan font-size="62" dy="-38.3">-1</tspan><tspan dy="38.3">)</tspan></text>
<text class="lab"><tspan font-size="88" x="244.0" y="131" textLength="39.5" lengthAdjust="spacingAndGlyphs">a</tspan><tspan font-size="76" x="284.4" y="122.2" textLength="28.8" lengthAdjust="spacingAndGlyphs">)</tspan></text>
<text class="lab"><tspan font-size="88" x="263.4" y="320" textLength="50.3" lengthAdjust="spacingAndGlyphs">b</tspan><tspan font-size="76" x="313.5" y="309.7" textLength="27.9" lengthAdjust="spacingAndGlyphs">)</tspan></text>
<text class="lab"><tspan font-size="88" x="244.4" y="764.8" textLength="35.3" lengthAdjust="spacingAndGlyphs">c</tspan><tspan font-size="76" x="281.3" y="756.2" textLength="27.0" lengthAdjust="spacingAndGlyphs">)</tspan></text>
<text class="lab"><tspan font-size="88" x="244.6" y="1090" textLength="47.7" lengthAdjust="spacingAndGlyphs">d</tspan><tspan font-size="76" x="295.2" y="1081.9" textLength="27.0" lengthAdjust="spacingAndGlyphs">)</tspan></text>
<circle class="dot" cx="1676" cy="535" r="22.4" fill="#ed7d31"/>
<circle class="dot" cx="1757.4" cy="685.7" r="22.4" fill="#ff0000"/>
<circle class="dot" cx="1666.5" cy="961" r="22.4" fill="#ed7d31"/>
<circle class="dot" cx="1757.5" cy="977.7" r="22.4" fill="#ff0000"/>
<circle class="dot" cx="1720.6" cy="1390" r="22.4" fill="#00b050"/>
<circle class="dot" cx="1665" cy="1459.8" r="22.4" fill="#ed7d31"/>
</svg></body></html>
